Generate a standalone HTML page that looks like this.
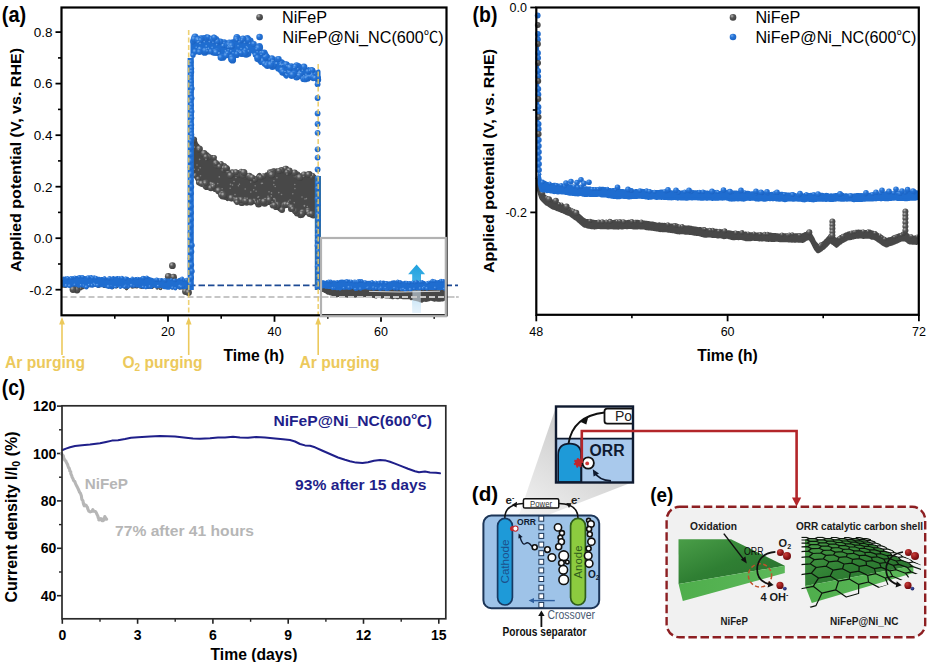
<!DOCTYPE html>
<html lang="en"><head><meta charset="utf-8"><title>NiFeP stability figure</title>
<style>html,body{margin:0;padding:0;background:#fff}body{width:928px;height:662px;overflow:hidden}svg{display:block;font-family:'Liberation Sans', sans-serif}</style></head><body>
<svg width="928" height="662" viewBox="0 0 928 662">
<defs>
<radialGradient id="gB" cx="0.35" cy="0.3" r="0.75"><stop offset="0" stop-color="#6ea9ee"/><stop offset="0.4" stop-color="#2573d6"/><stop offset="1" stop-color="#1a62c2"/></radialGradient>
<radialGradient id="gG" cx="0.35" cy="0.3" r="0.75"><stop offset="0" stop-color="#b5b5b5"/><stop offset="0.4" stop-color="#565656"/><stop offset="1" stop-color="#3e3e3e"/></radialGradient>
<radialGradient id="gR" cx="0.35" cy="0.3" r="0.8"><stop offset="0" stop-color="#c9403a"/><stop offset="0.6" stop-color="#8e1518"/><stop offset="1" stop-color="#5e0a0c"/></radialGradient>
<radialGradient id="gN" cx="0.35" cy="0.3" r="0.8"><stop offset="0" stop-color="#4a5ab0"/><stop offset="1" stop-color="#141a55"/></radialGradient>
<linearGradient id="gArrow" x1="0" y1="0" x2="0" y2="1"><stop offset="0" stop-color="#1fa0de"/><stop offset="0.35" stop-color="#3fb2e6"/><stop offset="0.7" stop-color="#a8d8f2" stop-opacity="0.85"/><stop offset="1" stop-color="#eaf5fc" stop-opacity="0.6"/></linearGradient>
<linearGradient id="gCone" x1="0.15" y1="1" x2="0.75" y2="0.1"><stop offset="0" stop-color="#f4f4f4"/><stop offset="1" stop-color="#c4c4c4"/></linearGradient>
<linearGradient id="gTop" x1="0" y1="0" x2="1" y2="1"><stop offset="0" stop-color="#4a9e48"/><stop offset="0.5" stop-color="#2f7f33"/><stop offset="1" stop-color="#2a6f2e"/></linearGradient>
<linearGradient id="gFront" x1="0" y1="0" x2="1" y2="0"><stop offset="0" stop-color="#4fae4c"/><stop offset="1" stop-color="#5cb85a"/></linearGradient>
</defs>
<rect width="928" height="662" fill="#fff"/>
<g id="panel-a">
<text x="1.8" y="21.8" font-size="22" font-weight="bold" fill="#000" text-anchor="start" textLength="24.4" lengthAdjust="spacingAndGlyphs">(a)</text>
<text x="0" y="0" font-size="15.5" font-weight="bold" fill="#000" text-anchor="middle" textLength="224" lengthAdjust="spacingAndGlyphs" transform="translate(21 160) rotate(-90)">Applied potential (V, vs. RHE)</text>
<line x1="55.5" y1="32.1" x2="61.5" y2="32.1" stroke="#000" stroke-width="1.8"/>
<text x="52.5" y="36.9" font-size="13.5" font-weight="normal" fill="#000" text-anchor="end">0.8</text>
<line x1="55.5" y1="83.6" x2="61.5" y2="83.6" stroke="#000" stroke-width="1.8"/>
<text x="52.5" y="88.4" font-size="13.5" font-weight="normal" fill="#000" text-anchor="end">0.6</text>
<line x1="55.5" y1="135.2" x2="61.5" y2="135.2" stroke="#000" stroke-width="1.8"/>
<text x="52.5" y="140" font-size="13.5" font-weight="normal" fill="#000" text-anchor="end">0.4</text>
<line x1="55.5" y1="186.7" x2="61.5" y2="186.7" stroke="#000" stroke-width="1.8"/>
<text x="52.5" y="191.5" font-size="13.5" font-weight="normal" fill="#000" text-anchor="end">0.2</text>
<line x1="55.5" y1="238.2" x2="61.5" y2="238.2" stroke="#000" stroke-width="1.8"/>
<text x="52.5" y="243" font-size="13.5" font-weight="normal" fill="#000" text-anchor="end">0.0</text>
<line x1="55.5" y1="289.7" x2="61.5" y2="289.7" stroke="#000" stroke-width="1.8"/>
<text x="52.5" y="294.5" font-size="13.5" font-weight="normal" fill="#000" text-anchor="end">-0.2</text>
<line x1="58" y1="57.9" x2="61.5" y2="57.9" stroke="#000" stroke-width="1.6"/>
<line x1="58" y1="109.4" x2="61.5" y2="109.4" stroke="#000" stroke-width="1.6"/>
<line x1="58" y1="160.9" x2="61.5" y2="160.9" stroke="#000" stroke-width="1.6"/>
<line x1="58" y1="212.4" x2="61.5" y2="212.4" stroke="#000" stroke-width="1.6"/>
<line x1="58" y1="264" x2="61.5" y2="264" stroke="#000" stroke-width="1.6"/>
<line x1="168" y1="315.3" x2="168" y2="321.8" stroke="#000" stroke-width="1.8"/>
<text x="168" y="336.2" font-size="12.5" font-weight="normal" fill="#000" text-anchor="middle">20</text>
<line x1="274.5" y1="315.3" x2="274.5" y2="321.8" stroke="#000" stroke-width="1.8"/>
<text x="274.5" y="336.2" font-size="12.5" font-weight="normal" fill="#000" text-anchor="middle">40</text>
<line x1="381" y1="315.3" x2="381" y2="321.8" stroke="#000" stroke-width="1.8"/>
<text x="381" y="336.2" font-size="12.5" font-weight="normal" fill="#000" text-anchor="middle">60</text>
<line x1="114.8" y1="315.3" x2="114.8" y2="318.8" stroke="#000" stroke-width="1.6"/>
<line x1="221.2" y1="315.3" x2="221.2" y2="318.8" stroke="#000" stroke-width="1.6"/>
<line x1="327.8" y1="315.3" x2="327.8" y2="318.8" stroke="#000" stroke-width="1.6"/>
<line x1="434.2" y1="315.3" x2="434.2" y2="318.8" stroke="#000" stroke-width="1.6"/>
<text x="253.8" y="361.3" font-size="15.7" font-weight="bold" fill="#000" text-anchor="middle">Time (h)</text>
</g>
<g id="panel-b">
<text x="472.6" y="21.8" font-size="22" font-weight="bold" fill="#000" text-anchor="start" textLength="24.8" lengthAdjust="spacingAndGlyphs">(b)</text>
<text x="0" y="0" font-size="15.5" font-weight="bold" fill="#000" text-anchor="middle" textLength="224" lengthAdjust="spacingAndGlyphs" transform="translate(494.3 161) rotate(-90)">Applied potential (V, vs. RHE)</text>
<line x1="530.3" y1="7.5" x2="536.3" y2="7.5" stroke="#000" stroke-width="1.8"/>
<text x="527" y="12.1" font-size="12.5" font-weight="normal" fill="#000" text-anchor="end">0.0</text>
<line x1="530.3" y1="212.4" x2="536.3" y2="212.4" stroke="#000" stroke-width="1.8"/>
<text x="527" y="217" font-size="12.5" font-weight="normal" fill="#000" text-anchor="end">-0.2</text>
<line x1="532.8" y1="110" x2="536.3" y2="110" stroke="#000" stroke-width="1.6"/>
<line x1="536.3" y1="314.8" x2="536.3" y2="321.3" stroke="#000" stroke-width="1.8"/>
<text x="536.3" y="336.2" font-size="12.5" font-weight="normal" fill="#000" text-anchor="middle">48</text>
<line x1="727.6" y1="314.8" x2="727.6" y2="321.3" stroke="#000" stroke-width="1.8"/>
<text x="727.6" y="336.2" font-size="12.5" font-weight="normal" fill="#000" text-anchor="middle">60</text>
<line x1="918.9" y1="314.8" x2="918.9" y2="321.3" stroke="#000" stroke-width="1.8"/>
<text x="918.9" y="336.2" font-size="12.5" font-weight="normal" fill="#000" text-anchor="middle">72</text>
<line x1="631.9" y1="314.8" x2="631.9" y2="318.3" stroke="#000" stroke-width="1.6"/>
<line x1="823.2" y1="314.8" x2="823.2" y2="318.3" stroke="#000" stroke-width="1.6"/>
<text x="727.5" y="361.3" font-size="15.7" font-weight="bold" fill="#000" text-anchor="middle">Time (h)</text>
</g>
<g id="panel-c">
<text x="1.8" y="394.6" font-size="22" font-weight="bold" fill="#000" text-anchor="start" textLength="23.4" lengthAdjust="spacingAndGlyphs">(c)</text>
<text x="0" y="0" font-size="16" font-weight="bold" fill="#000" text-anchor="middle" textLength="171" lengthAdjust="spacingAndGlyphs" transform="translate(16.6 517) rotate(-90)">Current density I/I<tspan font-size="10.5" dy="3">0</tspan><tspan dy="-3"> (%)</tspan></text>
<line x1="57" y1="406.1" x2="62" y2="406.1" stroke="#222" stroke-width="1.6"/>
<text x="56.4" y="411.2" font-size="14" font-weight="bold" fill="#000" text-anchor="end">120</text>
<line x1="57" y1="453.5" x2="62" y2="453.5" stroke="#222" stroke-width="1.6"/>
<text x="56.4" y="458.6" font-size="14" font-weight="bold" fill="#000" text-anchor="end">100</text>
<line x1="57" y1="500.9" x2="62" y2="500.9" stroke="#222" stroke-width="1.6"/>
<text x="56.4" y="506" font-size="14" font-weight="bold" fill="#000" text-anchor="end">80</text>
<line x1="57" y1="548.3" x2="62" y2="548.3" stroke="#222" stroke-width="1.6"/>
<text x="56.4" y="553.4" font-size="14" font-weight="bold" fill="#000" text-anchor="end">60</text>
<line x1="57" y1="595.7" x2="62" y2="595.7" stroke="#222" stroke-width="1.6"/>
<text x="56.4" y="600.8" font-size="14" font-weight="bold" fill="#000" text-anchor="end">40</text>
<line x1="59" y1="429.8" x2="62" y2="429.8" stroke="#222" stroke-width="1.4"/>
<line x1="59" y1="477.2" x2="62" y2="477.2" stroke="#222" stroke-width="1.4"/>
<line x1="59" y1="524.6" x2="62" y2="524.6" stroke="#222" stroke-width="1.4"/>
<line x1="59" y1="572" x2="62" y2="572" stroke="#222" stroke-width="1.4"/>
<line x1="62.3" y1="618.8" x2="62.3" y2="623.8" stroke="#222" stroke-width="1.6"/>
<text x="62.3" y="639.8" font-size="14" font-weight="bold" fill="#000" text-anchor="middle">0</text>
<line x1="137.6" y1="618.8" x2="137.6" y2="623.8" stroke="#222" stroke-width="1.6"/>
<text x="137.6" y="639.8" font-size="14" font-weight="bold" fill="#000" text-anchor="middle">3</text>
<line x1="212.9" y1="618.8" x2="212.9" y2="623.8" stroke="#222" stroke-width="1.6"/>
<text x="212.9" y="639.8" font-size="14" font-weight="bold" fill="#000" text-anchor="middle">6</text>
<line x1="288.2" y1="618.8" x2="288.2" y2="623.8" stroke="#222" stroke-width="1.6"/>
<text x="288.2" y="639.8" font-size="14" font-weight="bold" fill="#000" text-anchor="middle">9</text>
<line x1="363.5" y1="618.8" x2="363.5" y2="623.8" stroke="#222" stroke-width="1.6"/>
<text x="363.5" y="639.8" font-size="14" font-weight="bold" fill="#000" text-anchor="middle">12</text>
<line x1="438.8" y1="618.8" x2="438.8" y2="623.8" stroke="#222" stroke-width="1.6"/>
<text x="438.8" y="639.8" font-size="14" font-weight="bold" fill="#000" text-anchor="middle">15</text>
<line x1="100" y1="618.8" x2="100" y2="621.8" stroke="#222" stroke-width="1.4"/>
<line x1="175.2" y1="618.8" x2="175.2" y2="621.8" stroke="#222" stroke-width="1.4"/>
<line x1="250.6" y1="618.8" x2="250.6" y2="621.8" stroke="#222" stroke-width="1.4"/>
<line x1="325.9" y1="618.8" x2="325.9" y2="621.8" stroke="#222" stroke-width="1.4"/>
<line x1="401.2" y1="618.8" x2="401.2" y2="621.8" stroke="#222" stroke-width="1.4"/>
<text x="254" y="660" font-size="15.7" font-weight="bold" fill="#000" text-anchor="middle">Time (days)</text>
</g>
<g id="series-a">
<line x1="61.5" y1="297" x2="458.5" y2="297" stroke="#b4b4b4" stroke-width="1.6" stroke-dasharray="6 3"/>
<line x1="189" y1="285.3" x2="458" y2="285.3" stroke="#1d4a94" stroke-width="1.7" stroke-dasharray="6.5 3"/>
<path d="M63 280.8 64 280.3 65 280.8 66 280.2 67 280.5 68 280.5 69 279.9 70 280.3 71 279.8 72 280 73 279.6 74 279.4 75 279.8 76 280.7 77 280.3 78 280.1 79 280.6 80 281.6 81 281.7 82 281.5 83 282.3 84 281.3 85 282 86 281.5 87 280.9 88 280.5 89 280.4 90 281.2 91 280.8 92 281.2 93 281.5 94 281.3 95 281.5 96 280.8 97 280.3 98 280.2 99 280.9 100 281 101 280.9 102 281.2 103 281.3 104 281.1 105 281.8 106 282.1 107 281.7 108 281.8 109 281.9 110 282.5 111 282.8 112 282.2 113 283 114 282.1 115 281.9 116 282.4 117 281.7 118 281.8 119 281.1 120 281.6 121 282.2 122 282.3 123 282.9 124 282.4 125 282.7 126 282.7 127 282.7 128 282.5 129 283 130 283.6 131 283.2 132 283.3 133 282.3 134 282.6 135 282.8 136 283.5 137 283.8 138 283.1 139 282.7 140 282.9 141 282 142 282 143 281.6 144 281.2 145 280.8 146 281.6 147 281.2 148 281.1 149 281.3 150 282.3 151 281.6 152 281.8 153 282.1 154 282.9 155 283.4 156 283.8 157 283.1 158 282.9 159 282.6 160 283.3 161 283.9 162 283 163 282.4 164 282.1 165 281.8 166 282 167 282.4 168 282.1 169 281.5 170 281.7 171 281.8 172 282.2 173 283.1 174 283.4 175 283.3 176 283.4 177 283.6 178 282.7 179 283.5 180 283.8 181 284.3 182 284.5 183 284 184 283.6 185 282.8 186 283.1 187 282.4 L187 290.3 186 289.5 185 289.7 184 288.8 183 288.5 182 288.3 181 288.4 180 287.2 179 287.5 178 287.4 177 287.5 176 287.1 175 287.2 174 287.4 173 287.8 172 288.5 171 288.1 170 287.5 169 287.8 168 287.1 167 287.1 166 286.9 165 285.8 164 286.6 163 287.3 162 287.3 161 287.9 160 287.9 159 287.1 158 286.5 157 287.2 156 286.7 155 285.8 154 286.3 153 287 152 287.8 151 287.7 150 287 149 287.4 148 287.9 147 287.2 146 286.7 145 287.2 144 286.7 143 287.5 142 287.8 141 287.7 140 287.4 139 286.8 138 286.5 137 287.4 136 287.1 135 287 134 287.2 133 286.7 132 285.9 131 285.4 130 285.7 129 286.2 128 286.7 127 287.4 126 288.1 125 287.7 124 287.1 123 286.3 122 286.5 121 285.5 120 284.8 119 284.9 118 284.9 117 285.5 116 286.4 115 286.8 114 286.9 113 287.8 112 287.8 111 287.6 110 287.4 109 287.1 108 286.3 107 285.7 106 286.1 105 286.5 104 286.1 103 286 102 285.4 101 285.9 100 286.2 99 286.8 98 286.7 97 286.1 96 285.1 95 284.7 94 285.6 93 285.5 92 286.2 91 286.2 90 285.3 89 286 88 286.7 87 286 86 286.3 85 286.5 84 287.2 83 288.1 82 288.3 81 288.7 80 287.9 79 286.9 78 287.2 77 287.1 76 287 75 287.1 74 287.4 73 286.9 72 285.7 71 285.9 70 285.5 69 285.6 68 285.6 67 285.9 66 286.3 65 286.2 64 286.5 63 286.7Z" fill="#484848" stroke="#484848" stroke-width="2.2" stroke-linejoin="round"/>
<circle cx="125.2" cy="282.6" r="1.7" fill="url(#gG)"/>
<circle cx="65.3" cy="286.2" r="1.7" fill="url(#gG)"/>
<circle cx="85.7" cy="282.5" r="1.4" fill="url(#gG)"/>
<circle cx="84.4" cy="287.2" r="1.4" fill="url(#gG)"/>
<circle cx="152.9" cy="281.4" r="1.7" fill="url(#gG)"/>
<circle cx="127.3" cy="287.6" r="1.7" fill="url(#gG)"/>
<circle cx="160.2" cy="283.3" r="1.4" fill="url(#gG)"/>
<circle cx="93.8" cy="285.1" r="1.4" fill="url(#gG)"/>
<circle cx="158.8" cy="282.9" r="1.7" fill="url(#gG)"/>
<circle cx="157.2" cy="288.1" r="1.7" fill="url(#gG)"/>
<circle cx="118" cy="281.6" r="1.8" fill="url(#gG)"/>
<circle cx="126.5" cy="288.6" r="1.8" fill="url(#gG)"/>
<circle cx="119.1" cy="281" r="1.7" fill="url(#gG)"/>
<circle cx="179.7" cy="288" r="1.7" fill="url(#gG)"/>
<circle cx="171.7" cy="281.2" r="2" fill="url(#gG)"/>
<circle cx="132.4" cy="286.8" r="2" fill="url(#gG)"/>
<circle cx="167.2" cy="281.6" r="1.4" fill="url(#gG)"/>
<circle cx="117.8" cy="284.8" r="1.4" fill="url(#gG)"/>
<circle cx="92.8" cy="281.4" r="1.4" fill="url(#gG)"/>
<circle cx="160.2" cy="288.7" r="1.4" fill="url(#gG)"/>
<circle cx="82.2" cy="281.7" r="1.8" fill="url(#gG)"/>
<circle cx="80.7" cy="288.7" r="1.8" fill="url(#gG)"/>
<circle cx="183" cy="285.3" r="1.5" fill="url(#gG)"/>
<circle cx="112.4" cy="287.8" r="1.5" fill="url(#gG)"/>
<circle cx="185.7" cy="282.1" r="1.9" fill="url(#gG)"/>
<circle cx="116.5" cy="286.5" r="1.9" fill="url(#gG)"/>
<circle cx="105.1" cy="281.4" r="1.5" fill="url(#gG)"/>
<circle cx="152.5" cy="287" r="1.5" fill="url(#gG)"/>
<circle cx="131.7" cy="282.2" r="1.6" fill="url(#gG)"/>
<circle cx="104.1" cy="286.4" r="1.6" fill="url(#gG)"/>
<circle cx="126.5" cy="283.6" r="1.4" fill="url(#gG)"/>
<circle cx="160.8" cy="288.8" r="1.4" fill="url(#gG)"/>
<circle cx="76" cy="278.8" r="1.5" fill="url(#gG)"/>
<circle cx="159.6" cy="286.8" r="1.5" fill="url(#gG)"/>
<circle cx="79.1" cy="281.3" r="1.6" fill="url(#gG)"/>
<circle cx="164.6" cy="286.2" r="1.6" fill="url(#gG)"/>
<circle cx="81.5" cy="281.7" r="1.9" fill="url(#gG)"/>
<circle cx="149.9" cy="286.7" r="1.9" fill="url(#gG)"/>
<circle cx="70.1" cy="280.1" r="1.8" fill="url(#gG)"/>
<circle cx="72" cy="286.8" r="1.8" fill="url(#gG)"/>
<circle cx="172.4" cy="265.7" r="3.4" fill="url(#gG)"/>
<circle cx="168.3" cy="276.5" r="3.4" fill="url(#gG)"/>
<circle cx="173.5" cy="277.2" r="3.4" fill="url(#gG)"/>
<circle cx="185.5" cy="291.5" r="3.4" fill="url(#gG)"/>
<circle cx="188.5" cy="292.5" r="3.4" fill="url(#gG)"/>
<circle cx="77" cy="290" r="3.4" fill="url(#gG)"/>
<circle cx="73" cy="289.5" r="3.4" fill="url(#gG)"/>
<path d="M63.5 277.8 64.5 278.2 65.5 277.6 66.5 278 67.5 277.4 68.5 278 69.5 277.9 70.5 277.6 71.5 277.7 72.5 278.3 73.5 277.9 74.5 277.4 75.5 277.5 76.5 277.3 77.5 276.9 78.5 276.7 79.5 276.5 80.5 276.4 81.5 276.6 82.5 276.7 83.5 277.3 84.5 277.2 85.5 277.4 86.5 277.1 87.5 277.1 88.5 276.7 89.5 276.7 90.5 276.4 91.5 277.1 92.5 277.4 93.5 277.2 94.5 277.4 95.5 278.1 96.5 277.6 97.5 278.1 98.5 278 99.5 278 100.5 278.5 101.5 278.3 102.5 278.3 103.5 278.5 104.5 279 105.5 278.6 106.5 279 107.5 279.1 108.5 279.1 109.5 278.8 110.5 278.5 111.5 277.9 112.5 277.6 113.5 277.2 114.5 277.9 115.5 277.7 116.5 277.5 117.5 277.2 118.5 278 119.5 278.6 120.5 278.8 121.5 278.5 122.5 278.2 123.5 278.1 124.5 278.2 125.5 277.9 126.5 278 127.5 277.9 128.5 278.7 129.5 279.4 130.5 279.3 131.5 278.9 132.5 279.5 133.5 279.1 134.5 278.9 135.5 278.3 136.5 278.3 137.5 278.5 138.5 278.6 139.5 278.4 140.5 278.5 141.5 278.1 142.5 278 143.5 277.8 144.5 278 145.5 277.8 146.5 277.5 147.5 277.7 148.5 277.8 149.5 278.3 150.5 278.6 151.5 279.1 152.5 279.3 153.5 279.6 154.5 280 155.5 279.7 156.5 279.4 157.5 280 158.5 279.5 159.5 279.7 160.5 279.9 161.5 279.2 162.5 279.7 163.5 280.1 164.5 280.2 165.5 280.3 166.5 280.5 167.5 279.8 168.5 279.8 169.5 279.8 170.5 280.2 171.5 280.4 172.5 280.6 173.5 280.5 174.5 280.8 175.5 280.8 176.5 280.8 177.5 280.2 178.5 279.5 179.5 279.1 180.5 279.1 181.5 278.8 182.5 279.5 183.5 279.6 184.5 279.9 185.5 280 186.5 280.2 L186.5 287.5 185.5 287.8 184.5 287.6 183.5 288 182.5 287.4 181.5 286.9 180.5 287 179.5 287.1 178.5 287.1 177.5 287.6 176.5 286.9 175.5 287.5 174.5 287.9 173.5 287.9 172.5 287.6 171.5 287.8 170.5 287.5 169.5 288.4 168.5 288.3 167.5 288.6 166.5 288.3 165.5 288 164.5 288 163.5 287.7 162.5 287.2 161.5 286.5 160.5 286.5 159.5 286.8 158.5 286.6 157.5 286.9 156.5 287.2 155.5 286.5 154.5 286.6 153.5 285.9 152.5 286.3 151.5 286.8 150.5 287 149.5 287.2 148.5 287.5 147.5 287.5 146.5 286.8 145.5 287 144.5 287.2 143.5 287.7 142.5 287.3 141.5 287.1 140.5 286.5 139.5 287 138.5 286.5 137.5 285.9 136.5 286.5 135.5 285.8 134.5 285.8 133.5 285.7 132.5 286 131.5 286.1 130.5 286 129.5 285.8 128.5 286.4 127.5 287.1 126.5 287.2 125.5 286.8 124.5 287.3 123.5 287.2 122.5 286.7 121.5 286.7 120.5 286.3 119.5 286.8 118.5 286.1 117.5 286 116.5 286.4 115.5 286.3 114.5 286.7 113.5 286.1 112.5 286.5 111.5 286.9 110.5 287.2 109.5 286.7 108.5 286.2 107.5 286.3 106.5 287.1 105.5 286.6 104.5 285.9 103.5 286.2 102.5 285.6 101.5 286 100.5 286 99.5 286 98.5 285.9 97.5 286.2 96.5 285.9 95.5 285.5 94.5 284.9 93.5 284.9 92.5 285.3 91.5 285.8 90.5 285.6 89.5 285.8 88.5 285.3 87.5 285.5 86.5 285.9 85.5 286.6 84.5 286.5 83.5 286.5 82.5 286.2 81.5 286 80.5 286 79.5 286.3 78.5 286.4 77.5 285.7 76.5 285.3 75.5 285.5 74.5 285 73.5 285.1 72.5 285.6 71.5 285.9 70.5 285.5 69.5 286.2 68.5 286 67.5 286 66.5 286 65.5 285.7 64.5 285.1 63.5 285.7Z" fill="#1f6dd0" stroke="#1f6dd0" stroke-width="2.5" stroke-linejoin="round"/>
<circle cx="132.3" cy="278.4" r="1.8" fill="url(#gB)"/>
<circle cx="83.5" cy="285.8" r="1.8" fill="url(#gB)"/>
<circle cx="175.4" cy="280.4" r="1.9" fill="url(#gB)"/>
<circle cx="175.4" cy="288.6" r="1.9" fill="url(#gB)"/>
<circle cx="119.1" cy="277.6" r="1.6" fill="url(#gB)"/>
<circle cx="74.7" cy="284.8" r="1.6" fill="url(#gB)"/>
<circle cx="74.8" cy="277.1" r="1.7" fill="url(#gB)"/>
<circle cx="133.8" cy="286.3" r="1.7" fill="url(#gB)"/>
<circle cx="156.1" cy="279.6" r="1.8" fill="url(#gB)"/>
<circle cx="128.2" cy="286.9" r="1.8" fill="url(#gB)"/>
<circle cx="105.3" cy="278.7" r="1.6" fill="url(#gB)"/>
<circle cx="183" cy="286.8" r="1.6" fill="url(#gB)"/>
<circle cx="125.7" cy="278.4" r="2" fill="url(#gB)"/>
<circle cx="90.2" cy="285.5" r="2" fill="url(#gB)"/>
<circle cx="94.2" cy="277.1" r="1.8" fill="url(#gB)"/>
<circle cx="181.3" cy="287.5" r="1.8" fill="url(#gB)"/>
<circle cx="171.3" cy="279.5" r="1.5" fill="url(#gB)"/>
<circle cx="151.1" cy="287.6" r="1.5" fill="url(#gB)"/>
<circle cx="121.9" cy="277.8" r="2" fill="url(#gB)"/>
<circle cx="111.9" cy="287.5" r="2" fill="url(#gB)"/>
<circle cx="165.5" cy="280.8" r="2.1" fill="url(#gB)"/>
<circle cx="94.2" cy="284.4" r="2.1" fill="url(#gB)"/>
<circle cx="82.6" cy="276.9" r="1.9" fill="url(#gB)"/>
<circle cx="179.8" cy="287.5" r="1.9" fill="url(#gB)"/>
<circle cx="143.4" cy="278" r="2.1" fill="url(#gB)"/>
<circle cx="131.6" cy="285.5" r="2.1" fill="url(#gB)"/>
<circle cx="160.1" cy="280.3" r="1.7" fill="url(#gB)"/>
<circle cx="143.2" cy="287" r="1.7" fill="url(#gB)"/>
<circle cx="79.3" cy="276.9" r="1.7" fill="url(#gB)"/>
<circle cx="149.8" cy="286.6" r="1.7" fill="url(#gB)"/>
<circle cx="72.2" cy="277.9" r="1.9" fill="url(#gB)"/>
<circle cx="111.4" cy="286.8" r="1.9" fill="url(#gB)"/>
<circle cx="137.7" cy="278.2" r="1.5" fill="url(#gB)"/>
<circle cx="120.4" cy="287.5" r="1.5" fill="url(#gB)"/>
<circle cx="143.1" cy="278" r="2.2" fill="url(#gB)"/>
<circle cx="92.5" cy="285.5" r="2.2" fill="url(#gB)"/>
<circle cx="182.1" cy="278.5" r="2" fill="url(#gB)"/>
<circle cx="66.2" cy="285.7" r="2" fill="url(#gB)"/>
<circle cx="146.8" cy="277.2" r="1.8" fill="url(#gB)"/>
<circle cx="145.9" cy="287.6" r="1.8" fill="url(#gB)"/>
<circle cx="91.5" cy="276.9" r="1.6" fill="url(#gB)"/>
<circle cx="115.4" cy="287" r="1.6" fill="url(#gB)"/>
<circle cx="88" cy="277.5" r="2.1" fill="url(#gB)"/>
<circle cx="125.9" cy="286.3" r="2.1" fill="url(#gB)"/>
<circle cx="183.3" cy="279.9" r="1.8" fill="url(#gB)"/>
<circle cx="92" cy="285.4" r="1.8" fill="url(#gB)"/>
<circle cx="157.4" cy="280.1" r="1.7" fill="url(#gB)"/>
<circle cx="124.7" cy="286.8" r="1.7" fill="url(#gB)"/>
<circle cx="91.1" cy="276.7" r="1.8" fill="url(#gB)"/>
<circle cx="180.7" cy="286.5" r="1.8" fill="url(#gB)"/>
<circle cx="112.1" cy="278.6" r="1.7" fill="url(#gB)"/>
<circle cx="81" cy="285.4" r="1.7" fill="url(#gB)"/>
<circle cx="70.9" cy="278.2" r="1.8" fill="url(#gB)"/>
<circle cx="172.6" cy="287.9" r="1.8" fill="url(#gB)"/>
<circle cx="186.7" cy="280" r="2.2" fill="url(#gB)"/>
<circle cx="86.4" cy="287.2" r="2.2" fill="url(#gB)"/>
<circle cx="155.7" cy="280" r="1.6" fill="url(#gB)"/>
<circle cx="110.3" cy="286.5" r="1.6" fill="url(#gB)"/>
<circle cx="104.5" cy="277.8" r="1.7" fill="url(#gB)"/>
<circle cx="98.1" cy="285.9" r="1.7" fill="url(#gB)"/>
<circle cx="181.5" cy="279.4" r="1.6" fill="url(#gB)"/>
<circle cx="89.1" cy="285.1" r="1.6" fill="url(#gB)"/>
<circle cx="165" cy="280.1" r="2.1" fill="url(#gB)"/>
<circle cx="69.6" cy="286.1" r="2.1" fill="url(#gB)"/>
<circle cx="109.5" cy="278.3" r="2.2" fill="url(#gB)"/>
<circle cx="108.5" cy="286.8" r="2.2" fill="url(#gB)"/>
<circle cx="67.2" cy="278.5" r="1.8" fill="url(#gB)"/>
<circle cx="158.2" cy="286.2" r="1.8" fill="url(#gB)"/>
<circle cx="67.8" cy="278" r="1.6" fill="url(#gB)"/>
<circle cx="95.2" cy="285.3" r="1.6" fill="url(#gB)"/>
<circle cx="174.5" cy="280.2" r="1.8" fill="url(#gB)"/>
<circle cx="181.8" cy="287.1" r="1.8" fill="url(#gB)"/>
<circle cx="95.9" cy="277.8" r="2" fill="url(#gB)"/>
<circle cx="97.5" cy="285.4" r="2" fill="url(#gB)"/>
<circle cx="156.8" cy="279.6" r="2.2" fill="url(#gB)"/>
<circle cx="180" cy="286.5" r="2.2" fill="url(#gB)"/>
<circle cx="92.4" cy="277.8" r="1.9" fill="url(#gB)"/>
<circle cx="181.3" cy="286.9" r="1.9" fill="url(#gB)"/>
<path d="M193.5 140.6 194.5 141.4 195.5 142.3 196.5 145.2 197.5 145.5 198.5 148 199.5 150.1 200.5 152.2 201.5 154.1 202.5 155.3 203.5 155.3 204.5 155.2 205.5 155.3 206.5 156.9 207.5 156 208.5 155.9 209.5 157.7 210.5 157.6 211.5 157.2 212.5 157 213.5 158.7 214.5 159.5 215.5 162.3 216.5 164.3 217.5 166.3 218.5 165.8 219.5 165.1 220.5 164.8 221.5 165.9 222.5 167.6 223.5 168.2 224.5 168.1 225.5 168.8 226.5 170.2 227.5 171.5 228.5 172.9 229.5 174.4 230.5 175.2 231.5 173.6 232.5 174.7 233.5 173.8 234.5 174 235.5 173.6 236.5 174.4 237.5 173.4 238.5 172.8 239.5 172.4 240.5 171.8 241.5 173.6 242.5 174 243.5 173.6 244.5 173.8 245.5 175.8 246.5 175.9 247.5 175.2 248.5 176.5 249.5 177.1 250.5 178.7 251.5 177.2 252.5 177.3 253.5 178.5 254.5 179.5 255.5 180.6 256.5 178.5 257.5 177.3 258.5 175.8 259.5 174.8 260.5 176.4 261.5 176.3 262.5 177.2 263.5 176.1 264.5 176.6 265.5 175.7 266.5 174.3 267.5 174.8 268.5 175.6 269.5 173.6 270.5 173.8 271.5 173.9 272.5 172.8 273.5 172.3 274.5 171.3 275.5 170.7 276.5 170.4 277.5 171.2 278.5 171.9 279.5 171.1 280.5 169.8 281.5 169.8 282.5 170.8 283.5 170.1 284.5 169.8 285.5 169.3 286.5 170.7 287.5 171.2 288.5 170.6 289.5 170.4 290.5 171.3 291.5 172.6 292.5 174 293.5 173.6 294.5 173.6 295.5 174.8 296.5 174.9 297.5 174.5 298.5 174.3 299.5 176.1 300.5 175.5 301.5 175.7 302.5 175.2 303.5 175 304.5 176.1 305.5 177.4 306.5 176.4 307.5 175.1 308.5 175.7 309.5 174.7 310.5 173.5 311.5 175.5 312.5 175.6 313.5 177 314.5 176.8 315.5 178.2 L315.5 215 314.5 214.4 313.5 214 312.5 215.2 311.5 214.1 310.5 215.3 309.5 213.9 308.5 213.1 307.5 211.2 306.5 211.7 305.5 212.2 304.5 213.5 303.5 214 302.5 213.9 301.5 214.7 300.5 216 299.5 214.4 298.5 213.6 297.5 214.3 296.5 212.6 295.5 212.9 294.5 210.8 293.5 210.6 292.5 208.4 291.5 207.5 290.5 208.1 289.5 205.7 288.5 203.7 287.5 204.1 286.5 203.7 285.5 203.8 284.5 205.4 283.5 205.2 282.5 207.8 281.5 208.4 280.5 209.2 279.5 208.2 278.5 206.5 277.5 207.5 276.5 205.4 275.5 205.2 274.5 204.5 273.5 205.6 272.5 205.2 271.5 203.7 270.5 202 269.5 202.6 268.5 201.3 267.5 202.2 266.5 201.6 265.5 201 264.5 201.7 263.5 201.3 262.5 201.9 261.5 202.9 260.5 202.8 259.5 203.8 258.5 204.1 257.5 203.1 256.5 201.9 255.5 202.4 254.5 202.1 253.5 201.2 252.5 202.5 251.5 202.5 250.5 202.6 249.5 201.8 248.5 201.9 247.5 201.3 246.5 201.3 245.5 201.8 244.5 201.3 243.5 200.8 242.5 200.1 241.5 201.2 240.5 199.7 239.5 201.1 238.5 200 237.5 199.5 236.5 200.9 235.5 199.3 234.5 198 233.5 198.2 232.5 199 231.5 199.1 230.5 198.7 229.5 198.1 228.5 198.4 227.5 199.1 226.5 197.6 225.5 195.7 224.5 195.4 223.5 195.8 222.5 194.4 221.5 195.3 220.5 193.9 219.5 193.2 218.5 191.3 217.5 191.2 216.5 189.1 215.5 190.1 214.5 189.9 213.5 187.8 212.5 185.5 211.5 186.3 210.5 187.5 209.5 186.1 208.5 184.9 207.5 184.6 206.5 185.8 205.5 184 204.5 183.4 203.5 183.6 202.5 184.1 201.5 183.1 200.5 182.6 199.5 181.1 198.5 181.7 197.5 179.4 196.5 177.7 195.5 176 194.5 175.4 193.5 174.7Z" fill="#484848" stroke="#484848" stroke-width="4.1" stroke-linejoin="round"/>
<circle cx="237.6" cy="173.4" r="3.5" fill="url(#gG)"/>
<circle cx="264.6" cy="203.2" r="3.5" fill="url(#gG)"/>
<circle cx="206.3" cy="155.6" r="3.6" fill="url(#gG)"/>
<circle cx="241.8" cy="202.4" r="3.6" fill="url(#gG)"/>
<circle cx="225.9" cy="169" r="3.6" fill="url(#gG)"/>
<circle cx="237.6" cy="200.6" r="3.6" fill="url(#gG)"/>
<circle cx="247.7" cy="175.9" r="2.7" fill="url(#gG)"/>
<circle cx="199.4" cy="183" r="2.7" fill="url(#gG)"/>
<circle cx="224.6" cy="169.7" r="3.2" fill="url(#gG)"/>
<circle cx="265.3" cy="202.4" r="3.2" fill="url(#gG)"/>
<circle cx="231.8" cy="171.8" r="2.5" fill="url(#gG)"/>
<circle cx="211.8" cy="186.8" r="2.5" fill="url(#gG)"/>
<circle cx="246.4" cy="177" r="3.1" fill="url(#gG)"/>
<circle cx="209.7" cy="185.3" r="3.1" fill="url(#gG)"/>
<circle cx="273.5" cy="170.4" r="2.5" fill="url(#gG)"/>
<circle cx="237" cy="199.7" r="2.5" fill="url(#gG)"/>
<circle cx="237.3" cy="174.6" r="2.7" fill="url(#gG)"/>
<circle cx="265.7" cy="200.1" r="2.7" fill="url(#gG)"/>
<circle cx="269.9" cy="172.2" r="3" fill="url(#gG)"/>
<circle cx="308.2" cy="210.4" r="3" fill="url(#gG)"/>
<circle cx="211.8" cy="157.5" r="2.6" fill="url(#gG)"/>
<circle cx="300.2" cy="215.5" r="2.6" fill="url(#gG)"/>
<circle cx="242.7" cy="172.2" r="2.8" fill="url(#gG)"/>
<circle cx="272.5" cy="205.6" r="2.8" fill="url(#gG)"/>
<circle cx="236.4" cy="173.2" r="3.2" fill="url(#gG)"/>
<circle cx="308.3" cy="212.1" r="3.2" fill="url(#gG)"/>
<circle cx="223.9" cy="166.4" r="3.5" fill="url(#gG)"/>
<circle cx="258.6" cy="203.9" r="3.5" fill="url(#gG)"/>
<circle cx="222.6" cy="168.4" r="2.5" fill="url(#gG)"/>
<circle cx="195" cy="175.8" r="2.5" fill="url(#gG)"/>
<circle cx="308.8" cy="174.5" r="2.6" fill="url(#gG)"/>
<circle cx="268" cy="202.4" r="2.6" fill="url(#gG)"/>
<circle cx="272.1" cy="172.6" r="3.4" fill="url(#gG)"/>
<circle cx="231.4" cy="198.1" r="3.4" fill="url(#gG)"/>
<circle cx="199.4" cy="148.9" r="3.5" fill="url(#gG)"/>
<circle cx="281.1" cy="207.6" r="3.5" fill="url(#gG)"/>
<circle cx="296.9" cy="174.6" r="3.3" fill="url(#gG)"/>
<circle cx="284.4" cy="205.2" r="3.3" fill="url(#gG)"/>
<circle cx="221.2" cy="163.7" r="2.6" fill="url(#gG)"/>
<circle cx="198.3" cy="178.9" r="2.6" fill="url(#gG)"/>
<circle cx="285.3" cy="170.9" r="3.3" fill="url(#gG)"/>
<circle cx="280.7" cy="208.5" r="3.3" fill="url(#gG)"/>
<circle cx="261.3" cy="177.3" r="3" fill="url(#gG)"/>
<circle cx="257.6" cy="202.4" r="3" fill="url(#gG)"/>
<circle cx="272.1" cy="172.8" r="3.6" fill="url(#gG)"/>
<circle cx="301.3" cy="214.4" r="3.6" fill="url(#gG)"/>
<circle cx="225.4" cy="168.8" r="2.7" fill="url(#gG)"/>
<circle cx="309.2" cy="214.2" r="2.7" fill="url(#gG)"/>
<circle cx="233.5" cy="173.1" r="3.5" fill="url(#gG)"/>
<circle cx="222.8" cy="196" r="3.5" fill="url(#gG)"/>
<circle cx="270.8" cy="174.2" r="3.3" fill="url(#gG)"/>
<circle cx="313.4" cy="215.2" r="3.3" fill="url(#gG)"/>
<circle cx="296.4" cy="176" r="3.3" fill="url(#gG)"/>
<circle cx="247.1" cy="202.3" r="3.3" fill="url(#gG)"/>
<circle cx="263.4" cy="176" r="2.8" fill="url(#gG)"/>
<circle cx="269.8" cy="201.2" r="2.8" fill="url(#gG)"/>
<circle cx="305.1" cy="174.3" r="2.6" fill="url(#gG)"/>
<circle cx="206.6" cy="187.4" r="2.6" fill="url(#gG)"/>
<circle cx="235.7" cy="171.8" r="2.6" fill="url(#gG)"/>
<circle cx="198.6" cy="182.5" r="2.6" fill="url(#gG)"/>
<circle cx="271.2" cy="174.4" r="3.3" fill="url(#gG)"/>
<circle cx="201.6" cy="183.6" r="3.3" fill="url(#gG)"/>
<circle cx="238" cy="174.4" r="3.4" fill="url(#gG)"/>
<circle cx="302.7" cy="212.5" r="3.4" fill="url(#gG)"/>
<circle cx="299.8" cy="177.5" r="3.5" fill="url(#gG)"/>
<circle cx="206.6" cy="184.9" r="3.5" fill="url(#gG)"/>
<circle cx="207.2" cy="157.9" r="2.5" fill="url(#gG)"/>
<circle cx="293" cy="209" r="2.5" fill="url(#gG)"/>
<circle cx="294.6" cy="172.7" r="3.2" fill="url(#gG)"/>
<circle cx="205.7" cy="182.8" r="3.2" fill="url(#gG)"/>
<circle cx="286.3" cy="168.5" r="2.7" fill="url(#gG)"/>
<circle cx="245.4" cy="199.7" r="2.7" fill="url(#gG)"/>
<circle cx="224.9" cy="168.7" r="2.8" fill="url(#gG)"/>
<circle cx="238.6" cy="199.6" r="2.8" fill="url(#gG)"/>
<circle cx="311.6" cy="176.6" r="3" fill="url(#gG)"/>
<circle cx="269.2" cy="199.8" r="3" fill="url(#gG)"/>
<circle cx="244.1" cy="174.5" r="3" fill="url(#gG)"/>
<circle cx="236" cy="200.2" r="3" fill="url(#gG)"/>
<circle cx="259.4" cy="177" r="2.7" fill="url(#gG)"/>
<circle cx="204.6" cy="184.7" r="2.7" fill="url(#gG)"/>
<circle cx="214.4" cy="157.5" r="2.5" fill="url(#gG)"/>
<circle cx="286.9" cy="205.6" r="2.5" fill="url(#gG)"/>
<circle cx="194" cy="140.5" r="3" fill="url(#gG)"/>
<circle cx="291.1" cy="207.1" r="3" fill="url(#gG)"/>
<circle cx="254.1" cy="179.5" r="2.9" fill="url(#gG)"/>
<circle cx="225.4" cy="197.1" r="2.9" fill="url(#gG)"/>
<circle cx="228.3" cy="172" r="2.7" fill="url(#gG)"/>
<circle cx="254.5" cy="200.9" r="2.7" fill="url(#gG)"/>
<circle cx="271.5" cy="174.6" r="2.6" fill="url(#gG)"/>
<circle cx="278.9" cy="207.7" r="2.6" fill="url(#gG)"/>
<circle cx="270.4" cy="173.1" r="2.9" fill="url(#gG)"/>
<circle cx="241.8" cy="202.7" r="2.9" fill="url(#gG)"/>
<circle cx="204.1" cy="153.5" r="3.5" fill="url(#gG)"/>
<circle cx="218.7" cy="190.7" r="3.5" fill="url(#gG)"/>
<circle cx="303.9" cy="174.4" r="3" fill="url(#gG)"/>
<circle cx="301.8" cy="213.9" r="3" fill="url(#gG)"/>
<circle cx="250" cy="177.8" r="3.1" fill="url(#gG)"/>
<circle cx="285.7" cy="204.4" r="3.1" fill="url(#gG)"/>
<circle cx="236.2" cy="172.2" r="2.8" fill="url(#gG)"/>
<circle cx="296.8" cy="213.4" r="2.8" fill="url(#gG)"/>
<circle cx="284.4" cy="169.7" r="2.7" fill="url(#gG)"/>
<circle cx="288.2" cy="204.5" r="2.7" fill="url(#gG)"/>
<circle cx="208.9" cy="157.1" r="3" fill="url(#gG)"/>
<circle cx="222.6" cy="193.5" r="3" fill="url(#gG)"/>
<circle cx="230.4" cy="175.5" r="3.3" fill="url(#gG)"/>
<circle cx="212.4" cy="185.2" r="3.3" fill="url(#gG)"/>
<circle cx="223.8" cy="168.1" r="2.8" fill="url(#gG)"/>
<circle cx="213.2" cy="185" r="2.8" fill="url(#gG)"/>
<circle cx="216.7" cy="165" r="3.6" fill="url(#gG)"/>
<circle cx="206" cy="185.8" r="3.6" fill="url(#gG)"/>
<circle cx="206" cy="156.9" r="2.9" fill="url(#gG)"/>
<circle cx="290.9" cy="209" r="2.9" fill="url(#gG)"/>
<circle cx="246.8" cy="176.2" r="2.7" fill="url(#gG)"/>
<circle cx="206.6" cy="184.9" r="2.7" fill="url(#gG)"/>
<circle cx="241.1" cy="171.3" r="2.5" fill="url(#gG)"/>
<circle cx="290.4" cy="206.6" r="2.5" fill="url(#gG)"/>
<circle cx="254.8" cy="179.2" r="3.2" fill="url(#gG)"/>
<circle cx="210.9" cy="188.1" r="3.2" fill="url(#gG)"/>
<circle cx="243.1" cy="175.3" r="3.3" fill="url(#gG)"/>
<circle cx="246.2" cy="202.3" r="3.3" fill="url(#gG)"/>
<circle cx="285.3" cy="168.7" r="3" fill="url(#gG)"/>
<circle cx="282" cy="209.9" r="3" fill="url(#gG)"/>
<circle cx="288.3" cy="172.3" r="3.3" fill="url(#gG)"/>
<circle cx="276.8" cy="206.1" r="3.3" fill="url(#gG)"/>
<circle cx="249.1" cy="176.8" r="2.8" fill="url(#gG)"/>
<circle cx="205.5" cy="183.3" r="2.8" fill="url(#gG)"/>
<circle cx="289.3" cy="170.9" r="3.3" fill="url(#gG)"/>
<circle cx="224.1" cy="195.7" r="3.3" fill="url(#gG)"/>
<circle cx="249.3" cy="176" r="3.2" fill="url(#gG)"/>
<circle cx="276.2" cy="206.9" r="3.2" fill="url(#gG)"/>
<circle cx="215.9" cy="163.1" r="3.2" fill="url(#gG)"/>
<circle cx="241.1" cy="199.9" r="3.2" fill="url(#gG)"/>
<circle cx="312.9" cy="175.6" r="2.5" fill="url(#gG)"/>
<circle cx="213.2" cy="186.6" r="2.5" fill="url(#gG)"/>
<circle cx="308.7" cy="174.2" r="3.1" fill="url(#gG)"/>
<circle cx="263.9" cy="201.5" r="3.1" fill="url(#gG)"/>
<circle cx="281.4" cy="170.2" r="3.1" fill="url(#gG)"/>
<circle cx="295.1" cy="211" r="3.1" fill="url(#gG)"/>
<circle cx="243.8" cy="172.5" r="3.6" fill="url(#gG)"/>
<circle cx="277.3" cy="205.2" r="3.6" fill="url(#gG)"/>
<circle cx="286.9" cy="172.3" r="2.6" fill="url(#gG)"/>
<circle cx="237" cy="199.5" r="2.6" fill="url(#gG)"/>
<circle cx="227.1" cy="168.3" r="2.9" fill="url(#gG)"/>
<circle cx="244.8" cy="201.1" r="2.9" fill="url(#gG)"/>
<circle cx="279" cy="171" r="2.9" fill="url(#gG)"/>
<circle cx="221" cy="194.9" r="2.9" fill="url(#gG)"/>
<circle cx="308.6" cy="174.6" r="3.1" fill="url(#gG)"/>
<circle cx="291.7" cy="207.3" r="3.1" fill="url(#gG)"/>
<circle cx="219.5" cy="166.6" r="2.6" fill="url(#gG)"/>
<circle cx="292.7" cy="209" r="2.6" fill="url(#gG)"/>
<circle cx="251" cy="177.5" r="3.1" fill="url(#gG)"/>
<circle cx="311.6" cy="213.8" r="3.1" fill="url(#gG)"/>
<circle cx="271.8" cy="174.9" r="3.4" fill="url(#gG)"/>
<circle cx="250.8" cy="202" r="3.4" fill="url(#gG)"/>
<circle cx="260.7" cy="177.4" r="2.6" fill="url(#gG)"/>
<circle cx="237" cy="202.3" r="2.6" fill="url(#gG)"/>
<circle cx="226.3" cy="167.8" r="2.9" fill="url(#gG)"/>
<circle cx="245.7" cy="200.9" r="2.9" fill="url(#gG)"/>
<circle cx="193.8" cy="139.7" r="3.3" fill="url(#gG)"/>
<circle cx="223.5" cy="195.3" r="3.3" fill="url(#gG)"/>
<circle cx="252.2" cy="177.5" r="3" fill="url(#gG)"/>
<circle cx="274.3" cy="205.2" r="3" fill="url(#gG)"/>
<circle cx="307.3" cy="206.5" r="0.8" fill="#9a9a9a" opacity="0.7"/>
<circle cx="200.5" cy="175.8" r="0.8" fill="#9a9a9a" opacity="0.7"/>
<circle cx="304.5" cy="205.6" r="0.8" fill="#9a9a9a" opacity="0.7"/>
<circle cx="210.7" cy="182.5" r="0.8" fill="#9a9a9a" opacity="0.7"/>
<circle cx="271.1" cy="174.2" r="0.8" fill="#9a9a9a" opacity="0.7"/>
<circle cx="194.9" cy="173.8" r="0.8" fill="#9a9a9a" opacity="0.7"/>
<circle cx="273.9" cy="180.7" r="0.8" fill="#9a9a9a" opacity="0.7"/>
<circle cx="205.9" cy="159.4" r="0.8" fill="#9a9a9a" opacity="0.7"/>
<circle cx="222.1" cy="188.7" r="0.8" fill="#9a9a9a" opacity="0.7"/>
<circle cx="235.9" cy="177.5" r="0.8" fill="#9a9a9a" opacity="0.7"/>
<circle cx="304.3" cy="205.9" r="0.8" fill="#9a9a9a" opacity="0.7"/>
<circle cx="214.1" cy="184.6" r="0.8" fill="#9a9a9a" opacity="0.7"/>
<circle cx="268" cy="196.2" r="0.8" fill="#9a9a9a" opacity="0.7"/>
<circle cx="275.4" cy="201" r="0.8" fill="#9a9a9a" opacity="0.7"/>
<circle cx="290" cy="200" r="0.8" fill="#9a9a9a" opacity="0.7"/>
<circle cx="217.7" cy="183.6" r="0.8" fill="#9a9a9a" opacity="0.7"/>
<circle cx="258.5" cy="196.8" r="0.8" fill="#9a9a9a" opacity="0.7"/>
<circle cx="247.2" cy="198.3" r="0.8" fill="#9a9a9a" opacity="0.7"/>
<circle cx="261.5" cy="183.4" r="0.8" fill="#9a9a9a" opacity="0.7"/>
<circle cx="222.2" cy="170" r="0.8" fill="#9a9a9a" opacity="0.7"/>
<circle cx="253.9" cy="179.8" r="0.8" fill="#9a9a9a" opacity="0.7"/>
<circle cx="250.7" cy="182.1" r="0.8" fill="#9a9a9a" opacity="0.7"/>
<circle cx="253.7" cy="189.8" r="0.8" fill="#9a9a9a" opacity="0.7"/>
<circle cx="259.6" cy="199.8" r="0.8" fill="#9a9a9a" opacity="0.7"/>
<circle cx="194.3" cy="169.3" r="0.8" fill="#9a9a9a" opacity="0.7"/>
<circle cx="250.8" cy="192.1" r="0.8" fill="#9a9a9a" opacity="0.7"/>
<circle cx="275" cy="199.2" r="0.8" fill="#9a9a9a" opacity="0.7"/>
<circle cx="239.4" cy="184.2" r="0.8" fill="#9a9a9a" opacity="0.7"/>
<circle cx="311.2" cy="176.7" r="0.8" fill="#9a9a9a" opacity="0.7"/>
<circle cx="271.5" cy="192.9" r="0.8" fill="#9a9a9a" opacity="0.7"/>
<circle cx="197" cy="165" r="0.8" fill="#9a9a9a" opacity="0.7"/>
<circle cx="277.1" cy="203" r="0.8" fill="#9a9a9a" opacity="0.7"/>
<circle cx="234" cy="197.7" r="0.8" fill="#9a9a9a" opacity="0.7"/>
<circle cx="256.1" cy="191.2" r="0.8" fill="#9a9a9a" opacity="0.7"/>
<circle cx="303.5" cy="176.5" r="0.8" fill="#9a9a9a" opacity="0.7"/>
<circle cx="281.5" cy="194.5" r="0.8" fill="#9a9a9a" opacity="0.7"/>
<circle cx="235" cy="194.6" r="0.8" fill="#9a9a9a" opacity="0.7"/>
<circle cx="238.4" cy="185.8" r="0.8" fill="#9a9a9a" opacity="0.7"/>
<circle cx="257.9" cy="197.2" r="0.8" fill="#9a9a9a" opacity="0.7"/>
<circle cx="219.3" cy="176.9" r="0.8" fill="#9a9a9a" opacity="0.7"/>
<circle cx="245.2" cy="189" r="0.8" fill="#9a9a9a" opacity="0.7"/>
<circle cx="294.8" cy="184.5" r="0.8" fill="#9a9a9a" opacity="0.7"/>
<circle cx="294.9" cy="188.6" r="0.8" fill="#9a9a9a" opacity="0.7"/>
<circle cx="255.2" cy="185.7" r="0.8" fill="#9a9a9a" opacity="0.7"/>
<circle cx="255.5" cy="201.9" r="0.8" fill="#9a9a9a" opacity="0.7"/>
<circle cx="273.7" cy="198.7" r="0.8" fill="#9a9a9a" opacity="0.7"/>
<circle cx="234" cy="181.5" r="0.8" fill="#9a9a9a" opacity="0.7"/>
<circle cx="230.2" cy="188.3" r="0.8" fill="#9a9a9a" opacity="0.7"/>
<circle cx="271.3" cy="195.9" r="0.8" fill="#9a9a9a" opacity="0.7"/>
<circle cx="198.4" cy="170" r="0.8" fill="#9a9a9a" opacity="0.7"/>
<circle cx="302" cy="197" r="0.8" fill="#9a9a9a" opacity="0.7"/>
<circle cx="199.6" cy="159.4" r="0.8" fill="#9a9a9a" opacity="0.7"/>
<circle cx="194.3" cy="147.1" r="0.8" fill="#9a9a9a" opacity="0.7"/>
<circle cx="306.4" cy="198.6" r="0.8" fill="#9a9a9a" opacity="0.7"/>
<circle cx="274.1" cy="198.6" r="0.8" fill="#9a9a9a" opacity="0.7"/>
<circle cx="305" cy="199" r="0.8" fill="#9a9a9a" opacity="0.7"/>
<circle cx="269" cy="191.7" r="0.8" fill="#9a9a9a" opacity="0.7"/>
<circle cx="278.8" cy="192.6" r="0.8" fill="#9a9a9a" opacity="0.7"/>
<circle cx="276.9" cy="177.8" r="0.8" fill="#9a9a9a" opacity="0.7"/>
<circle cx="275.2" cy="186.5" r="0.8" fill="#9a9a9a" opacity="0.7"/>
<circle cx="286.9" cy="174.1" r="0.8" fill="#9a9a9a" opacity="0.7"/>
<circle cx="215.7" cy="163.3" r="0.8" fill="#9a9a9a" opacity="0.7"/>
<circle cx="288.4" cy="201.3" r="0.8" fill="#9a9a9a" opacity="0.7"/>
<circle cx="273.8" cy="184.6" r="0.8" fill="#9a9a9a" opacity="0.7"/>
<circle cx="294.3" cy="202.7" r="0.8" fill="#9a9a9a" opacity="0.7"/>
<circle cx="262.4" cy="183.2" r="0.8" fill="#9a9a9a" opacity="0.7"/>
<circle cx="230.5" cy="184.4" r="0.8" fill="#9a9a9a" opacity="0.7"/>
<circle cx="232.5" cy="185.1" r="0.8" fill="#9a9a9a" opacity="0.7"/>
<circle cx="272.1" cy="201.7" r="0.8" fill="#9a9a9a" opacity="0.7"/>
<circle cx="200.2" cy="167.7" r="0.8" fill="#9a9a9a" opacity="0.7"/>
<circle cx="198.3" cy="149.5" r="0.8" fill="#9a9a9a" opacity="0.7"/>
<circle cx="292.8" cy="193.8" r="0.8" fill="#9a9a9a" opacity="0.7"/>
<path d="M192.5 40.6 193.5 39.9 194.5 38 195.5 37.6 196.5 37.7 197.5 38.7 198.5 40 199.5 39.7 200.5 39.3 201.5 38.1 202.5 38.9 203.5 38.2 204.5 37.7 205.5 36.9 206.5 36.3 207.5 37.9 208.5 37.5 209.5 39.6 210.5 38.8 211.5 40.5 212.5 39.7 213.5 38.8 214.5 40.2 215.5 40 216.5 41.3 217.5 40.9 218.5 40.4 219.5 42.1 220.5 43.3 221.5 44.7 222.5 45.4 223.5 44.3 224.5 45.1 225.5 45.7 226.5 45.2 227.5 46.1 228.5 44.9 229.5 45.9 230.5 45.8 231.5 43.3 232.5 41.2 233.5 41.2 234.5 41.5 235.5 39.5 236.5 38.5 237.5 38.7 238.5 37.8 239.5 39.3 240.5 39.4 241.5 38.3 242.5 38.5 243.5 39.2 244.5 39.4 245.5 40.3 246.5 39.5 247.5 40.9 248.5 40.9 249.5 41.7 250.5 42.4 251.5 42.4 252.5 42.4 253.5 43.7 254.5 45.3 255.5 46.8 256.5 47.6 257.5 47.8 258.5 47.5 259.5 50.2 260.5 51.5 261.5 52.9 262.5 52.8 263.5 53.6 264.5 55.5 265.5 56.7 266.5 57.2 267.5 56.9 268.5 57.2 269.5 58.8 270.5 58.4 271.5 59.1 272.5 59.5 273.5 60.7 274.5 61.5 275.5 60.7 276.5 59.4 277.5 59.1 278.5 59.5 279.5 60.3 280.5 61.6 281.5 62.8 282.5 61.5 283.5 62.8 284.5 63.7 285.5 64.7 286.5 64.8 287.5 64.1 288.5 65.3 289.5 66.2 290.5 66.6 291.5 67.7 292.5 67 293.5 65.8 294.5 66.4 295.5 67.5 296.5 66.7 297.5 67.7 298.5 69.1 299.5 68.2 300.5 68.7 301.5 69.4 302.5 69.3 303.5 68.6 304.5 68.3 305.5 69.4 306.5 70.4 307.5 70.3 308.5 69.2 309.5 70.4 310.5 71.3 311.5 70.5 312.5 71 313.5 72.2 314.5 73 315.5 72.7 316.5 72.3 317.5 72.4 318.5 71.4 L318.5 79.8 317.5 78.3 316.5 79.6 315.5 77.8 314.5 78.8 313.5 77.2 312.5 77.3 311.5 77 310.5 77.7 309.5 78.1 308.5 76.7 307.5 77 306.5 77.7 305.5 77.8 304.5 78.5 303.5 77 302.5 77.3 301.5 76.5 300.5 74.9 299.5 75.4 298.5 75.6 297.5 76.3 296.5 75.6 295.5 75.5 294.5 74.2 293.5 74.9 292.5 75.5 291.5 75.6 290.5 74.8 289.5 73.5 288.5 74.8 287.5 75.1 286.5 76.7 285.5 76 284.5 74.6 283.5 72.5 282.5 72.6 281.5 70.3 280.5 70.6 279.5 70.6 278.5 68.9 277.5 69.4 276.5 67.7 275.5 67.5 274.5 66.9 273.5 66.7 272.5 65.5 271.5 65.5 270.5 65.3 269.5 65 268.5 65.8 267.5 64.7 266.5 64.1 265.5 64.6 264.5 64 263.5 62.3 262.5 60.9 261.5 61.6 260.5 62.9 259.5 61.1 258.5 59.5 257.5 57.6 256.5 55.4 255.5 55.6 254.5 53.5 253.5 52.1 252.5 50.6 251.5 50.7 250.5 51.2 249.5 52.7 248.5 54 247.5 52.9 246.5 51.5 245.5 52.8 244.5 53.4 243.5 54.3 242.5 54.4 241.5 53.4 240.5 53.2 239.5 53.1 238.5 54.1 237.5 52.9 236.5 54.7 235.5 55.8 234.5 56.3 233.5 58.8 232.5 58.6 231.5 57.9 230.5 58.7 229.5 56.5 228.5 54.9 227.5 54.9 226.5 55 225.5 55 224.5 55.3 223.5 56.7 222.5 57.8 221.5 56.8 220.5 56.1 219.5 55.4 218.5 53.9 217.5 53.9 216.5 52.8 215.5 53.4 214.5 53.3 213.5 53.5 212.5 52.3 211.5 50.3 210.5 51.2 209.5 52.4 208.5 52.2 207.5 52.5 206.5 52.1 205.5 52.9 204.5 51.7 203.5 50.7 202.5 51.4 201.5 51.5 200.5 49.4 199.5 50.1 198.5 50.8 197.5 50.4 196.5 51.4 195.5 51.8 194.5 52.9 193.5 52.8 192.5 54.3Z" fill="#1f6dd0" stroke="#1f6dd0" stroke-width="4.1" stroke-linejoin="round"/>
<circle cx="276.7" cy="59.2" r="2.7" fill="url(#gB)"/>
<circle cx="228.6" cy="54.3" r="2.7" fill="url(#gB)"/>
<circle cx="217.9" cy="42.4" r="2.9" fill="url(#gB)"/>
<circle cx="318.3" cy="79.8" r="2.9" fill="url(#gB)"/>
<circle cx="204.8" cy="38.8" r="2.8" fill="url(#gB)"/>
<circle cx="199.7" cy="50.9" r="2.8" fill="url(#gB)"/>
<circle cx="229.5" cy="43.2" r="3.6" fill="url(#gB)"/>
<circle cx="294.2" cy="74.6" r="3.6" fill="url(#gB)"/>
<circle cx="210.2" cy="40.6" r="2.5" fill="url(#gB)"/>
<circle cx="258.8" cy="58.6" r="2.5" fill="url(#gB)"/>
<circle cx="247.3" cy="38.5" r="3.5" fill="url(#gB)"/>
<circle cx="264.5" cy="61.2" r="3.5" fill="url(#gB)"/>
<circle cx="215.2" cy="40.8" r="3.4" fill="url(#gB)"/>
<circle cx="217.3" cy="51.5" r="3.4" fill="url(#gB)"/>
<circle cx="203.5" cy="38.1" r="3.2" fill="url(#gB)"/>
<circle cx="227" cy="54.2" r="3.2" fill="url(#gB)"/>
<circle cx="269.7" cy="59.6" r="3.3" fill="url(#gB)"/>
<circle cx="265.9" cy="63.7" r="3.3" fill="url(#gB)"/>
<circle cx="200.8" cy="38.9" r="3.3" fill="url(#gB)"/>
<circle cx="283.4" cy="71.3" r="3.3" fill="url(#gB)"/>
<circle cx="294.6" cy="67.3" r="2.9" fill="url(#gB)"/>
<circle cx="301.4" cy="75" r="2.9" fill="url(#gB)"/>
<circle cx="194.4" cy="39.7" r="3.5" fill="url(#gB)"/>
<circle cx="302.4" cy="75.8" r="3.5" fill="url(#gB)"/>
<circle cx="215.9" cy="39.4" r="3.4" fill="url(#gB)"/>
<circle cx="213.1" cy="52" r="3.4" fill="url(#gB)"/>
<circle cx="267.5" cy="57.1" r="2.5" fill="url(#gB)"/>
<circle cx="248.7" cy="54.2" r="2.5" fill="url(#gB)"/>
<circle cx="207.7" cy="38.8" r="3.3" fill="url(#gB)"/>
<circle cx="301.5" cy="76" r="3.3" fill="url(#gB)"/>
<circle cx="282.1" cy="63.5" r="2.9" fill="url(#gB)"/>
<circle cx="200.2" cy="51.4" r="2.9" fill="url(#gB)"/>
<circle cx="312.7" cy="70.9" r="3" fill="url(#gB)"/>
<circle cx="259.3" cy="59.7" r="3" fill="url(#gB)"/>
<circle cx="195.1" cy="37" r="3.6" fill="url(#gB)"/>
<circle cx="215.5" cy="52.1" r="3.6" fill="url(#gB)"/>
<circle cx="224.1" cy="42.7" r="3.4" fill="url(#gB)"/>
<circle cx="204.7" cy="52.4" r="3.4" fill="url(#gB)"/>
<circle cx="217.1" cy="41.5" r="2.5" fill="url(#gB)"/>
<circle cx="265.1" cy="64.1" r="2.5" fill="url(#gB)"/>
<circle cx="281" cy="62.7" r="2.6" fill="url(#gB)"/>
<circle cx="282.9" cy="71.3" r="2.6" fill="url(#gB)"/>
<circle cx="208" cy="37.8" r="3" fill="url(#gB)"/>
<circle cx="227.7" cy="53.8" r="3" fill="url(#gB)"/>
<circle cx="243.6" cy="39.4" r="2.6" fill="url(#gB)"/>
<circle cx="301" cy="73.9" r="2.6" fill="url(#gB)"/>
<circle cx="264.7" cy="54.3" r="3.3" fill="url(#gB)"/>
<circle cx="296.6" cy="77.2" r="3.3" fill="url(#gB)"/>
<circle cx="241.5" cy="40.4" r="3" fill="url(#gB)"/>
<circle cx="258.7" cy="59.3" r="3" fill="url(#gB)"/>
<circle cx="311.1" cy="70.7" r="3.4" fill="url(#gB)"/>
<circle cx="222.8" cy="57.4" r="3.4" fill="url(#gB)"/>
<circle cx="247.4" cy="40.4" r="3.6" fill="url(#gB)"/>
<circle cx="307.5" cy="78.1" r="3.6" fill="url(#gB)"/>
<circle cx="299.3" cy="69" r="2.5" fill="url(#gB)"/>
<circle cx="313.2" cy="78.8" r="2.5" fill="url(#gB)"/>
<circle cx="223.9" cy="44.6" r="3" fill="url(#gB)"/>
<circle cx="238.4" cy="53.1" r="3" fill="url(#gB)"/>
<circle cx="201.2" cy="39.2" r="3" fill="url(#gB)"/>
<circle cx="195.1" cy="51.8" r="3" fill="url(#gB)"/>
<circle cx="314.7" cy="74.3" r="3.4" fill="url(#gB)"/>
<circle cx="272.3" cy="66.6" r="3.4" fill="url(#gB)"/>
<circle cx="303.9" cy="67" r="3.5" fill="url(#gB)"/>
<circle cx="273.3" cy="64.9" r="3.5" fill="url(#gB)"/>
<circle cx="278" cy="59.2" r="2.8" fill="url(#gB)"/>
<circle cx="309" cy="77.2" r="2.8" fill="url(#gB)"/>
<circle cx="224.1" cy="44" r="3.1" fill="url(#gB)"/>
<circle cx="312.3" cy="76.4" r="3.1" fill="url(#gB)"/>
<circle cx="231" cy="44.5" r="3.2" fill="url(#gB)"/>
<circle cx="267.4" cy="65.7" r="3.2" fill="url(#gB)"/>
<circle cx="257.2" cy="47.4" r="2.8" fill="url(#gB)"/>
<circle cx="259.8" cy="60.1" r="2.8" fill="url(#gB)"/>
<circle cx="208.1" cy="37.1" r="2.6" fill="url(#gB)"/>
<circle cx="243.7" cy="53.7" r="2.6" fill="url(#gB)"/>
<circle cx="223.2" cy="45.5" r="2.6" fill="url(#gB)"/>
<circle cx="298.3" cy="76.8" r="2.6" fill="url(#gB)"/>
<circle cx="264.3" cy="52.6" r="3.2" fill="url(#gB)"/>
<circle cx="282" cy="70.2" r="3.2" fill="url(#gB)"/>
<circle cx="261.6" cy="52.7" r="3.2" fill="url(#gB)"/>
<circle cx="231.6" cy="57.2" r="3.2" fill="url(#gB)"/>
<circle cx="220.4" cy="41.6" r="3.1" fill="url(#gB)"/>
<circle cx="266.3" cy="63.1" r="3.1" fill="url(#gB)"/>
<circle cx="236.9" cy="37.6" r="3.5" fill="url(#gB)"/>
<circle cx="262.6" cy="61" r="3.5" fill="url(#gB)"/>
<circle cx="228.4" cy="45.4" r="3.6" fill="url(#gB)"/>
<circle cx="289.8" cy="72.5" r="3.6" fill="url(#gB)"/>
<circle cx="200.9" cy="39" r="3.5" fill="url(#gB)"/>
<circle cx="200.3" cy="49.9" r="3.5" fill="url(#gB)"/>
<circle cx="247.9" cy="39.5" r="3.3" fill="url(#gB)"/>
<circle cx="220.9" cy="57.6" r="3.3" fill="url(#gB)"/>
<circle cx="285.6" cy="64.1" r="2.6" fill="url(#gB)"/>
<circle cx="236.9" cy="55.4" r="2.6" fill="url(#gB)"/>
<circle cx="270.2" cy="59.7" r="3.5" fill="url(#gB)"/>
<circle cx="257.7" cy="58.5" r="3.5" fill="url(#gB)"/>
<circle cx="286.2" cy="64.5" r="3.3" fill="url(#gB)"/>
<circle cx="291.4" cy="75.6" r="3.3" fill="url(#gB)"/>
<circle cx="307.8" cy="71.4" r="2.6" fill="url(#gB)"/>
<circle cx="193" cy="55.3" r="2.6" fill="url(#gB)"/>
<circle cx="266.3" cy="58.1" r="3" fill="url(#gB)"/>
<circle cx="264.6" cy="63.8" r="3" fill="url(#gB)"/>
<circle cx="291.2" cy="66.8" r="3.5" fill="url(#gB)"/>
<circle cx="240.3" cy="53.1" r="3.5" fill="url(#gB)"/>
<circle cx="250.2" cy="40.9" r="3.3" fill="url(#gB)"/>
<circle cx="241.7" cy="53.7" r="3.3" fill="url(#gB)"/>
<circle cx="240.9" cy="40.2" r="2.8" fill="url(#gB)"/>
<circle cx="299.5" cy="75.5" r="2.8" fill="url(#gB)"/>
<circle cx="248.4" cy="40.1" r="2.7" fill="url(#gB)"/>
<circle cx="210.8" cy="51.5" r="2.7" fill="url(#gB)"/>
<circle cx="265.8" cy="58" r="2.6" fill="url(#gB)"/>
<circle cx="233.3" cy="59.8" r="2.6" fill="url(#gB)"/>
<circle cx="298.1" cy="66.7" r="3.6" fill="url(#gB)"/>
<circle cx="246.2" cy="54.2" r="3.6" fill="url(#gB)"/>
<circle cx="193.8" cy="40" r="2.5" fill="url(#gB)"/>
<circle cx="255.2" cy="55" r="2.5" fill="url(#gB)"/>
<circle cx="290" cy="67.7" r="3.1" fill="url(#gB)"/>
<circle cx="257.7" cy="57.8" r="3.1" fill="url(#gB)"/>
<circle cx="278.8" cy="58.9" r="2.9" fill="url(#gB)"/>
<circle cx="267.4" cy="63.8" r="2.9" fill="url(#gB)"/>
<circle cx="311.9" cy="70.5" r="3.2" fill="url(#gB)"/>
<circle cx="205" cy="51.4" r="3.2" fill="url(#gB)"/>
<circle cx="243" cy="38.6" r="3.1" fill="url(#gB)"/>
<circle cx="303.4" cy="78.9" r="3.1" fill="url(#gB)"/>
<circle cx="253.8" cy="44" r="3" fill="url(#gB)"/>
<circle cx="318" cy="77.9" r="3" fill="url(#gB)"/>
<circle cx="259.3" cy="46.4" r="3.4" fill="url(#gB)"/>
<circle cx="232.6" cy="60.2" r="3.4" fill="url(#gB)"/>
<circle cx="296.6" cy="65.3" r="3.1" fill="url(#gB)"/>
<circle cx="305.2" cy="79.2" r="3.1" fill="url(#gB)"/>
<circle cx="295.9" cy="68.6" r="3.6" fill="url(#gB)"/>
<circle cx="245.5" cy="51.8" r="3.6" fill="url(#gB)"/>
<circle cx="229" cy="44.8" r="3.1" fill="url(#gB)"/>
<circle cx="216.2" cy="52.5" r="3.1" fill="url(#gB)"/>
<circle cx="271.9" cy="58.5" r="3.2" fill="url(#gB)"/>
<circle cx="317.7" cy="78.9" r="3.2" fill="url(#gB)"/>
<circle cx="197.8" cy="39.5" r="2.9" fill="url(#gB)"/>
<circle cx="231.1" cy="59.4" r="2.9" fill="url(#gB)"/>
<circle cx="193" cy="41.6" r="2.8" fill="url(#gB)"/>
<circle cx="266.4" cy="65.2" r="2.8" fill="url(#gB)"/>
<circle cx="217.3" cy="41.4" r="3" fill="url(#gB)"/>
<circle cx="226" cy="55.6" r="3" fill="url(#gB)"/>
<circle cx="259.5" cy="47.7" r="3.6" fill="url(#gB)"/>
<circle cx="244.3" cy="53.2" r="3.6" fill="url(#gB)"/>
<circle cx="212.3" cy="39.1" r="3.3" fill="url(#gB)"/>
<circle cx="205.1" cy="50.7" r="3.3" fill="url(#gB)"/>
<circle cx="258.3" cy="48" r="3.4" fill="url(#gB)"/>
<circle cx="294.1" cy="73.7" r="3.4" fill="url(#gB)"/>
<circle cx="194.1" cy="39.2" r="3.4" fill="url(#gB)"/>
<circle cx="282.6" cy="72.3" r="3.4" fill="url(#gB)"/>
<circle cx="213.8" cy="37.4" r="2.8" fill="url(#gB)"/>
<circle cx="306.4" cy="78.2" r="2.8" fill="url(#gB)"/>
<circle cx="236.5" cy="39.1" r="3" fill="url(#gB)"/>
<circle cx="199.4" cy="52.1" r="3" fill="url(#gB)"/>
<circle cx="265.9" cy="56.4" r="3.6" fill="url(#gB)"/>
<circle cx="270.6" cy="64.6" r="3.6" fill="url(#gB)"/>
<circle cx="198" cy="39.8" r="3.5" fill="url(#gB)"/>
<circle cx="232.2" cy="59.3" r="3.5" fill="url(#gB)"/>
<circle cx="295.3" cy="66.6" r="2.8" fill="url(#gB)"/>
<circle cx="313.5" cy="77.4" r="2.8" fill="url(#gB)"/>
<circle cx="312.2" cy="70.1" r="2.7" fill="url(#gB)"/>
<circle cx="283" cy="71.8" r="2.7" fill="url(#gB)"/>
<circle cx="231.5" cy="45.7" r="3.5" fill="url(#gB)"/>
<circle cx="292.4" cy="74.9" r="3.5" fill="url(#gB)"/>
<circle cx="214.4" cy="37.7" r="2.9" fill="url(#gB)"/>
<circle cx="314.9" cy="78.2" r="2.9" fill="url(#gB)"/>
<circle cx="263.3" cy="52.8" r="2.6" fill="url(#gB)"/>
<circle cx="241.1" cy="53" r="2.6" fill="url(#gB)"/>
<circle cx="200.7" cy="40.2" r="2.6" fill="url(#gB)"/>
<circle cx="236.8" cy="54" r="2.6" fill="url(#gB)"/>
<circle cx="216.6" cy="44.6" r="0.8" fill="#79b2f2" opacity="0.7"/>
<circle cx="222.4" cy="45.1" r="0.8" fill="#79b2f2" opacity="0.7"/>
<circle cx="276.2" cy="63" r="0.8" fill="#79b2f2" opacity="0.7"/>
<circle cx="212.1" cy="47.4" r="0.8" fill="#79b2f2" opacity="0.7"/>
<circle cx="204.2" cy="41.6" r="0.8" fill="#79b2f2" opacity="0.7"/>
<circle cx="297.7" cy="68.8" r="0.8" fill="#79b2f2" opacity="0.7"/>
<circle cx="248.4" cy="50.9" r="0.8" fill="#79b2f2" opacity="0.7"/>
<circle cx="293.9" cy="67.3" r="0.8" fill="#79b2f2" opacity="0.7"/>
<circle cx="237" cy="50.2" r="0.8" fill="#79b2f2" opacity="0.7"/>
<circle cx="240" cy="52.5" r="0.8" fill="#79b2f2" opacity="0.7"/>
<circle cx="218.7" cy="53.2" r="0.8" fill="#79b2f2" opacity="0.7"/>
<circle cx="256.1" cy="48.8" r="0.8" fill="#79b2f2" opacity="0.7"/>
<circle cx="249.5" cy="43.2" r="0.8" fill="#79b2f2" opacity="0.7"/>
<circle cx="281.5" cy="64.8" r="0.8" fill="#79b2f2" opacity="0.7"/>
<circle cx="305.9" cy="74.3" r="0.8" fill="#79b2f2" opacity="0.7"/>
<circle cx="238.9" cy="41.8" r="0.8" fill="#79b2f2" opacity="0.7"/>
<circle cx="269.1" cy="59" r="0.8" fill="#79b2f2" opacity="0.7"/>
<circle cx="302.4" cy="70.2" r="0.8" fill="#79b2f2" opacity="0.7"/>
<circle cx="257.1" cy="51.8" r="0.8" fill="#79b2f2" opacity="0.7"/>
<circle cx="226.6" cy="52.8" r="0.8" fill="#79b2f2" opacity="0.7"/>
<circle cx="241" cy="48.5" r="0.8" fill="#79b2f2" opacity="0.7"/>
<circle cx="264" cy="56.3" r="0.8" fill="#79b2f2" opacity="0.7"/>
<circle cx="241.6" cy="39.6" r="0.8" fill="#79b2f2" opacity="0.7"/>
<circle cx="214.8" cy="51.3" r="0.8" fill="#79b2f2" opacity="0.7"/>
<circle cx="233" cy="52.7" r="0.8" fill="#79b2f2" opacity="0.7"/>
<circle cx="206.2" cy="45.9" r="0.8" fill="#79b2f2" opacity="0.7"/>
<circle cx="238" cy="45.8" r="0.8" fill="#79b2f2" opacity="0.7"/>
<circle cx="229.9" cy="46.6" r="0.8" fill="#79b2f2" opacity="0.7"/>
<circle cx="231.7" cy="46.6" r="0.8" fill="#79b2f2" opacity="0.7"/>
<circle cx="208.4" cy="48.4" r="0.8" fill="#79b2f2" opacity="0.7"/>
<circle cx="228.1" cy="49.7" r="0.8" fill="#79b2f2" opacity="0.7"/>
<circle cx="307" cy="76.1" r="0.8" fill="#79b2f2" opacity="0.7"/>
<circle cx="303.7" cy="75.8" r="0.8" fill="#79b2f2" opacity="0.7"/>
<circle cx="209.2" cy="41.6" r="0.8" fill="#79b2f2" opacity="0.7"/>
<circle cx="196.2" cy="47.2" r="0.8" fill="#79b2f2" opacity="0.7"/>
<circle cx="276.1" cy="63.1" r="0.8" fill="#79b2f2" opacity="0.7"/>
<circle cx="244.5" cy="49.1" r="0.8" fill="#79b2f2" opacity="0.7"/>
<circle cx="280.6" cy="63.8" r="0.8" fill="#79b2f2" opacity="0.7"/>
<circle cx="299.2" cy="71.4" r="0.8" fill="#79b2f2" opacity="0.7"/>
<circle cx="271.7" cy="60.3" r="0.8" fill="#79b2f2" opacity="0.7"/>
<circle cx="207" cy="50.7" r="0.8" fill="#79b2f2" opacity="0.7"/>
<circle cx="285" cy="71.5" r="0.8" fill="#79b2f2" opacity="0.7"/>
<circle cx="197.6" cy="39.2" r="0.8" fill="#79b2f2" opacity="0.7"/>
<circle cx="212.9" cy="42.2" r="0.8" fill="#79b2f2" opacity="0.7"/>
<circle cx="230.7" cy="50.7" r="0.8" fill="#79b2f2" opacity="0.7"/>
<circle cx="197.4" cy="42" r="0.8" fill="#79b2f2" opacity="0.7"/>
<circle cx="272.9" cy="60.6" r="0.8" fill="#79b2f2" opacity="0.7"/>
<circle cx="298.3" cy="72.6" r="0.8" fill="#79b2f2" opacity="0.7"/>
<circle cx="282.8" cy="64.3" r="0.8" fill="#79b2f2" opacity="0.7"/>
<circle cx="247.3" cy="47.7" r="0.8" fill="#79b2f2" opacity="0.7"/>
<circle cx="236.5" cy="39.6" r="0.8" fill="#79b2f2" opacity="0.7"/>
<circle cx="297.6" cy="74.4" r="0.8" fill="#79b2f2" opacity="0.7"/>
<circle cx="228.6" cy="45.3" r="0.8" fill="#79b2f2" opacity="0.7"/>
<circle cx="300.1" cy="72.6" r="0.8" fill="#79b2f2" opacity="0.7"/>
<circle cx="198.5" cy="41.6" r="0.8" fill="#79b2f2" opacity="0.7"/>
<circle cx="206.5" cy="48.8" r="0.8" fill="#79b2f2" opacity="0.7"/>
<circle cx="219" cy="52.7" r="0.8" fill="#79b2f2" opacity="0.7"/>
<circle cx="286.9" cy="65.8" r="0.8" fill="#79b2f2" opacity="0.7"/>
<circle cx="280" cy="64.4" r="0.8" fill="#79b2f2" opacity="0.7"/>
<circle cx="286.7" cy="74.7" r="0.8" fill="#79b2f2" opacity="0.7"/>
<circle cx="227.9" cy="46.9" r="0.8" fill="#79b2f2" opacity="0.7"/>
<circle cx="311.7" cy="73.3" r="0.8" fill="#79b2f2" opacity="0.7"/>
<circle cx="309.7" cy="75.7" r="0.8" fill="#79b2f2" opacity="0.7"/>
<circle cx="285.6" cy="74.1" r="0.8" fill="#79b2f2" opacity="0.7"/>
<circle cx="271.6" cy="62" r="0.8" fill="#79b2f2" opacity="0.7"/>
<circle cx="199.3" cy="47.5" r="0.8" fill="#79b2f2" opacity="0.7"/>
<circle cx="246.5" cy="46.7" r="0.8" fill="#79b2f2" opacity="0.7"/>
<circle cx="309.4" cy="70.1" r="0.8" fill="#79b2f2" opacity="0.7"/>
<circle cx="288.5" cy="65.7" r="0.8" fill="#79b2f2" opacity="0.7"/>
<circle cx="281" cy="68.9" r="0.8" fill="#79b2f2" opacity="0.7"/>
<circle cx="225.4" cy="50.7" r="0.8" fill="#79b2f2" opacity="0.7"/>
<circle cx="314.6" cy="76.7" r="0.8" fill="#79b2f2" opacity="0.7"/>
<circle cx="261" cy="54.3" r="0.8" fill="#79b2f2" opacity="0.7"/>
<circle cx="200" cy="43.4" r="0.8" fill="#79b2f2" opacity="0.7"/>
<circle cx="244.4" cy="42.2" r="0.8" fill="#79b2f2" opacity="0.7"/>
<rect x="187.6" y="58" width="6.2" height="232" fill="#1f6dd0"/>
<circle cx="190.9" cy="62" r="2.7" fill="url(#gB)"/>
<circle cx="190.6" cy="65.3" r="2.7" fill="url(#gB)"/>
<circle cx="191.5" cy="68.6" r="2.7" fill="url(#gB)"/>
<circle cx="191.5" cy="71.9" r="2.7" fill="url(#gB)"/>
<circle cx="190.8" cy="75.2" r="2.7" fill="url(#gB)"/>
<circle cx="190.8" cy="78.5" r="2.7" fill="url(#gB)"/>
<circle cx="191.2" cy="81.8" r="2.7" fill="url(#gB)"/>
<circle cx="191.1" cy="85.1" r="2.7" fill="url(#gB)"/>
<circle cx="191.9" cy="88.4" r="2.7" fill="url(#gB)"/>
<circle cx="191" cy="91.7" r="2.7" fill="url(#gB)"/>
<circle cx="190.9" cy="95" r="2.7" fill="url(#gB)"/>
<circle cx="191.8" cy="98.3" r="2.7" fill="url(#gB)"/>
<circle cx="190.6" cy="101.6" r="2.7" fill="url(#gB)"/>
<circle cx="191.3" cy="104.9" r="2.7" fill="url(#gB)"/>
<circle cx="190.9" cy="108.2" r="2.7" fill="url(#gB)"/>
<circle cx="191.7" cy="111.5" r="2.7" fill="url(#gB)"/>
<circle cx="191.3" cy="114.8" r="2.7" fill="url(#gB)"/>
<circle cx="191.6" cy="118.1" r="2.7" fill="url(#gB)"/>
<circle cx="190.7" cy="121.4" r="2.7" fill="url(#gB)"/>
<circle cx="191.5" cy="124.7" r="2.7" fill="url(#gB)"/>
<circle cx="191.4" cy="128" r="2.7" fill="url(#gB)"/>
<circle cx="191.1" cy="131.3" r="2.7" fill="url(#gB)"/>
<circle cx="191.6" cy="134.6" r="2.7" fill="url(#gB)"/>
<circle cx="191.7" cy="137.9" r="2.7" fill="url(#gB)"/>
<circle cx="190.6" cy="141.2" r="2.7" fill="url(#gB)"/>
<circle cx="190.9" cy="147.7" r="2.7" fill="url(#gB)"/>
<circle cx="191" cy="154.2" r="2.7" fill="url(#gB)"/>
<circle cx="190.7" cy="160.7" r="2.7" fill="url(#gB)"/>
<circle cx="190.5" cy="167.2" r="2.7" fill="url(#gB)"/>
<circle cx="190.8" cy="173.7" r="2.7" fill="url(#gB)"/>
<circle cx="190.7" cy="180.2" r="2.7" fill="url(#gB)"/>
<circle cx="191.5" cy="186.7" r="2.7" fill="url(#gB)"/>
<circle cx="191.1" cy="193.2" r="2.7" fill="url(#gB)"/>
<circle cx="190.6" cy="199.7" r="2.7" fill="url(#gB)"/>
<circle cx="190.9" cy="206.2" r="2.7" fill="url(#gB)"/>
<circle cx="191.1" cy="212.7" r="2.7" fill="url(#gB)"/>
<circle cx="191" cy="219.2" r="2.7" fill="url(#gB)"/>
<circle cx="190.7" cy="225.7" r="2.7" fill="url(#gB)"/>
<circle cx="190.5" cy="232.2" r="2.7" fill="url(#gB)"/>
<circle cx="190.4" cy="238.7" r="2.7" fill="url(#gB)"/>
<circle cx="192" cy="245.2" r="2.7" fill="url(#gB)"/>
<circle cx="191.6" cy="251.7" r="2.7" fill="url(#gB)"/>
<circle cx="190.5" cy="258.2" r="2.7" fill="url(#gB)"/>
<circle cx="191.5" cy="264.7" r="2.7" fill="url(#gB)"/>
<circle cx="192" cy="271.2" r="2.7" fill="url(#gB)"/>
<circle cx="191.3" cy="277.7" r="2.7" fill="url(#gB)"/>
<circle cx="190.6" cy="284.2" r="2.7" fill="url(#gB)"/>
<rect x="314.8" y="176" width="6.2" height="114" fill="#2f6fa6"/>
<circle cx="317.8" cy="178" r="2.6" fill="url(#gB)" opacity="0.85"/>
<circle cx="317.7" cy="183.2" r="2.6" fill="url(#gB)" opacity="0.85"/>
<circle cx="317.4" cy="188.4" r="2.6" fill="url(#gB)" opacity="0.85"/>
<circle cx="317.9" cy="193.6" r="2.6" fill="url(#gB)" opacity="0.85"/>
<circle cx="317.2" cy="198.8" r="2.6" fill="url(#gB)" opacity="0.85"/>
<circle cx="318.3" cy="204" r="2.6" fill="url(#gB)" opacity="0.85"/>
<circle cx="318" cy="209.2" r="2.6" fill="url(#gB)" opacity="0.85"/>
<circle cx="318" cy="214.4" r="2.6" fill="url(#gB)" opacity="0.85"/>
<circle cx="318.3" cy="219.6" r="2.6" fill="url(#gB)" opacity="0.85"/>
<circle cx="318" cy="224.8" r="2.6" fill="url(#gB)" opacity="0.85"/>
<circle cx="317.5" cy="230" r="2.6" fill="url(#gB)" opacity="0.85"/>
<circle cx="317.5" cy="235.2" r="2.6" fill="url(#gB)" opacity="0.85"/>
<circle cx="317.4" cy="240.4" r="2.6" fill="url(#gB)" opacity="0.85"/>
<circle cx="317.2" cy="245.6" r="2.6" fill="url(#gB)" opacity="0.85"/>
<circle cx="318.1" cy="250.8" r="2.6" fill="url(#gB)" opacity="0.85"/>
<circle cx="318.2" cy="256" r="2.6" fill="url(#gB)" opacity="0.85"/>
<circle cx="317.6" cy="261.2" r="2.6" fill="url(#gB)" opacity="0.85"/>
<circle cx="317.4" cy="266.4" r="2.6" fill="url(#gB)" opacity="0.85"/>
<circle cx="318" cy="271.6" r="2.6" fill="url(#gB)" opacity="0.85"/>
<circle cx="318.2" cy="276.8" r="2.6" fill="url(#gB)" opacity="0.85"/>
<circle cx="318.3" cy="282" r="2.6" fill="url(#gB)" opacity="0.85"/>
<circle cx="317.4" cy="287.2" r="2.6" fill="url(#gB)" opacity="0.85"/>
<circle cx="317.6" cy="84.2" r="2.9" fill="url(#gB)"/>
<circle cx="317.6" cy="98" r="2.9" fill="url(#gB)"/>
<circle cx="317.6" cy="113.5" r="2.9" fill="url(#gB)"/>
<circle cx="317.6" cy="124" r="2.9" fill="url(#gB)"/>
<circle cx="317.6" cy="132.8" r="2.9" fill="url(#gB)"/>
<circle cx="317.6" cy="149.3" r="2.9" fill="url(#gB)"/>
<circle cx="317.6" cy="157.6" r="2.9" fill="url(#gB)"/>
<circle cx="317.6" cy="169.5" r="2.9" fill="url(#gB)"/>
<path d="M416.6 264.4 L425.1 274.2 L421 274.2 L421 313 L412.2 313 L412.2 274.2 L408.1 274.2 Z" fill="url(#gArrow)"/>
<path d="M322 286.4 323 286.8 324 287 325 286.8 326 286.5 327 287 328 286.8 329 286.8 330 287 331 286.9 332 287.3 333 287 334 286.5 335 286.7 336 286.9 337 287.3 338 287.4 339 287.7 340 288 341 287.8 342 287.6 343 287.1 344 286.9 345 287 346 286.6 347 286.9 348 286.6 349 286.7 350 287.2 351 286.8 352 286.4 353 286.5 354 286.3 355 286.7 356 286.3 357 286.8 358 287.2 359 287.5 360 287.3 361 287 362 287.2 363 287.2 364 287.1 365 286.9 366 286.9 367 287.1 368 287.4 369 287.7 370 287.2 371 287 372 286.9 373 287 374 286.9 375 286.6 376 286.3 377 286.3 378 286.5 379 287.1 380 287.5 381 287.7 382 288 383 288.2 384 288.1 385 288.1 386 287.4 387 287.5 388 287.5 389 287.2 390 287.2 391 287.6 392 287.5 393 287.5 394 287.2 395 287 396 287.4 397 286.8 398 286.6 399 286.9 400 286.9 401 286.5 402 286.8 403 286.7 404 286.9 405 286.9 406 286.9 407 287 408 286.9 409 286.6 410 286.4 411 286.9 412 287 413 286.6 414 287.1 415 286.8 416 286.5 417 286.7 418 286.5 419 286.6 420 286.8 421 286.6 422 286.8 423 286.5 424 286.6 425 286.8 426 286.5 427 286.5 428 286.2 429 286.4 430 286.9 431 287 432 287.2 433 287.4 434 287 435 287.5 436 287.6 437 287.1 438 287.4 439 287.2 440 286.8 441 287.3 442 287.3 443 287.5 444 287.1 L444 300 443 300.4 442 300.5 441 300.4 440 300.6 439 300.6 438 300.7 437 300.5 436 300.3 435 300.6 434 300.6 433 300.3 432 299.9 431 299.6 430 299.8 429 300.3 428 300.5 427 300.8 426 300.9 425 300.8 424 300.8 423 300.9 422 301.7 421 301.5 420 301.2 419 300.8 418 300.4 417 300.3 416 299.9 415 299.7 414 299.6 413 299 412 299 411 299.2 410 298.3 409 298 408 298.3 407 298.2 406 297.9 405 298.2 404 298.2 403 298.2 402 297.9 401 297.8 400 297.7 399 297.8 398 298.3 397 298.1 396 297.5 395 297.7 394 297.7 393 298.2 392 298.1 391 297.6 390 297.7 389 297.2 388 297.5 387 297.4 386 297.5 385 297.3 384 296.8 383 297 382 297.5 381 297.2 380 296.7 379 296.5 378 296.8 377 297 376 297.6 375 297.3 374 297 373 296.8 372 296.7 371 296.2 370 296.4 369 296.5 368 296.1 367 296.2 366 296 365 296.2 364 295.6 363 295.8 362 296.2 361 296.6 360 296.5 359 296.1 358 296 357 296.3 356 296.6 355 296.5 354 296 353 296.4 352 296 351 295.8 350 296.2 349 296.1 348 296.7 347 296.6 346 296.2 345 295.9 344 296 343 296.5 342 296.2 341 296 340 295.7 339 295.9 338 295.7 337 296.2 336 295.9 335 295.5 334 295.5 333 295.1 332 294.9 331 294.4 330 294.3 329 293.8 328 293.8 327 293.3 326 292.4 325 292.1 324 291.4 323 291 322 290.9Z" fill="#484848" stroke="#484848" stroke-width="2.1" stroke-linejoin="round"/>
<circle cx="363.3" cy="287.7" r="1.5" fill="url(#gG)"/>
<circle cx="381" cy="287.2" r="1.5" fill="url(#gG)"/>
<circle cx="350.8" cy="286.8" r="1.5" fill="url(#gG)"/>
<circle cx="322.9" cy="286.4" r="1.8" fill="url(#gG)"/>
<circle cx="376.6" cy="286.1" r="1.6" fill="url(#gG)"/>
<circle cx="342.7" cy="287.4" r="1.3" fill="url(#gG)"/>
<circle cx="359.8" cy="287.5" r="1.7" fill="url(#gG)"/>
<circle cx="436.8" cy="288.1" r="1.5" fill="url(#gG)"/>
<circle cx="393.5" cy="287.2" r="1.3" fill="url(#gG)"/>
<circle cx="393.1" cy="287.4" r="1.9" fill="url(#gG)"/>
<circle cx="416.9" cy="286.9" r="1.5" fill="url(#gG)"/>
<circle cx="330.3" cy="287.5" r="1.6" fill="url(#gG)"/>
<circle cx="355.8" cy="286.2" r="1.4" fill="url(#gG)"/>
<circle cx="342.2" cy="287.8" r="1.4" fill="url(#gG)"/>
<circle cx="348.7" cy="286.3" r="1.5" fill="url(#gG)"/>
<circle cx="395.9" cy="287.2" r="1.8" fill="url(#gG)"/>
<circle cx="346.1" cy="287.1" r="1.7" fill="url(#gG)"/>
<path d="M322 281.8 323 281.3 324 281.7 325 282.1 326 281.8 327 281.3 328 281.1 329 281.2 330 281.7 331 281.8 332 282.2 333 281.7 334 281.5 335 281.8 336 281.9 337 281.7 338 281.8 339 281.6 340 281 341 281 342 280.6 343 281 344 280.9 345 281 346 281.2 347 281 348 281.1 349 280.6 350 281.3 351 281.4 352 282 353 281.4 354 281.5 355 281.8 356 281.6 357 281.1 358 280.9 359 280.7 360 281.2 361 280.9 362 281.5 363 281.5 364 281.6 365 281.8 366 281.9 367 282 368 282.1 369 281.9 370 282.2 371 281.9 372 282.2 373 282.4 374 282.7 375 282.3 376 282.6 377 283 378 282.8 379 282.4 380 282.4 381 282.8 382 282.3 383 281.7 384 281.9 385 282.2 386 282.5 387 282.4 388 282.9 389 282.5 390 282.8 391 282.3 392 281.8 393 281.6 394 281.4 395 281.7 396 282 397 281.8 398 282.5 399 282.4 400 282.1 401 281.9 402 282.3 403 282.9 404 282.4 405 281.9 406 282.4 407 282.1 408 282.8 409 282.7 410 282.8 411 282.5 412 282.8 413 282.7 414 282.4 415 282.9 416 282.3 417 282.6 418 282 419 282.3 420 282.2 421 282.6 422 282 423 282.2 424 282.1 425 282.6 426 283 427 282.9 428 282.4 429 282.1 430 281.8 431 281.7 432 281.4 433 281.1 434 281.5 435 281.6 436 281.3 437 281.8 438 281.3 439 281.3 440 280.8 441 281.2 442 281.5 443 281 444 281.2 L444 288.6 443 288.9 442 288.8 441 288.7 440 289.3 439 288.8 438 288.8 437 289 436 288.6 435 288.3 434 289 433 288.5 432 288.7 431 288.7 430 288.6 429 288.8 428 288.6 427 289.3 426 288.9 425 288.5 424 287.9 423 288.2 422 288.5 421 288.8 420 289 419 288.9 418 289.3 417 288.8 416 288.6 415 289.2 414 288.6 413 289 412 289.2 411 289.4 410 289.7 409 289.2 408 289.4 407 289.8 406 290.1 405 290.1 404 289.9 403 289.4 402 289.2 401 289.2 400 289.1 399 288.8 398 288.4 397 288.8 396 288.8 395 288.5 394 288.4 393 288.1 392 288.4 391 288.8 390 289 389 289.4 388 289.8 387 289.7 386 289.3 385 288.7 384 289 383 289.2 382 288.6 381 288.4 380 288.4 379 288.8 378 288.7 377 288.3 376 288.6 375 288.2 374 288.4 373 288.3 372 288.6 371 288.5 370 289 369 288.4 368 288.5 367 287.7 366 288 365 288.4 364 288.3 363 288.6 362 288.5 361 289.1 360 288.9 359 288.5 358 288.9 357 289.6 356 289.2 355 288.8 354 288.5 353 287.9 352 287.9 351 288.2 350 287.9 349 288.1 348 288.5 347 288.2 346 288.6 345 288 344 288.6 343 287.9 342 288.3 341 288.9 340 289.4 339 288.9 338 288.6 337 289.1 336 288.8 335 288.5 334 288.7 333 288.2 332 288.5 331 288 330 287.9 329 287.9 328 287.7 327 287.3 326 287.7 325 287.1 324 287 323 287.1 322 287.3Z" fill="#1f6dd0" stroke="#1f6dd0" stroke-width="2.4" stroke-linejoin="round"/>
<circle cx="409.2" cy="282.7" r="1.7" fill="url(#gB)"/>
<circle cx="397.1" cy="289" r="1.7" fill="url(#gB)"/>
<circle cx="361.5" cy="281" r="1.9" fill="url(#gB)"/>
<circle cx="349.3" cy="288.2" r="1.9" fill="url(#gB)"/>
<circle cx="354.5" cy="281.5" r="2.1" fill="url(#gB)"/>
<circle cx="410.4" cy="289.7" r="2.1" fill="url(#gB)"/>
<circle cx="380.4" cy="281.9" r="1.6" fill="url(#gB)"/>
<circle cx="435.6" cy="288.3" r="1.6" fill="url(#gB)"/>
<circle cx="386.2" cy="282.9" r="1.8" fill="url(#gB)"/>
<circle cx="351.2" cy="287.8" r="1.8" fill="url(#gB)"/>
<circle cx="422.7" cy="282.2" r="1.8" fill="url(#gB)"/>
<circle cx="423.4" cy="288.7" r="1.8" fill="url(#gB)"/>
<circle cx="428.3" cy="282.3" r="1.5" fill="url(#gB)"/>
<circle cx="423.9" cy="288.6" r="1.5" fill="url(#gB)"/>
<circle cx="337.1" cy="281.4" r="1.5" fill="url(#gB)"/>
<circle cx="334.6" cy="288.5" r="1.5" fill="url(#gB)"/>
<circle cx="420.4" cy="282.1" r="1.8" fill="url(#gB)"/>
<circle cx="332.8" cy="288.4" r="1.8" fill="url(#gB)"/>
<circle cx="444.1" cy="281.1" r="1.9" fill="url(#gB)"/>
<circle cx="380.6" cy="288.8" r="1.9" fill="url(#gB)"/>
<circle cx="415" cy="282.7" r="1.5" fill="url(#gB)"/>
<circle cx="366.9" cy="288.1" r="1.5" fill="url(#gB)"/>
<circle cx="351.1" cy="281.2" r="1.7" fill="url(#gB)"/>
<circle cx="368.7" cy="287.9" r="1.7" fill="url(#gB)"/>
<circle cx="346.6" cy="280.7" r="1.8" fill="url(#gB)"/>
<circle cx="343.9" cy="288.2" r="1.8" fill="url(#gB)"/>
<circle cx="355.6" cy="281.5" r="1.7" fill="url(#gB)"/>
<circle cx="424.2" cy="287.4" r="1.7" fill="url(#gB)"/>
<circle cx="399.9" cy="282.1" r="2" fill="url(#gB)"/>
<circle cx="373.8" cy="288.7" r="2" fill="url(#gB)"/>
<circle cx="397.7" cy="281.2" r="1.7" fill="url(#gB)"/>
<circle cx="376.2" cy="288.4" r="1.7" fill="url(#gB)"/>
<circle cx="409.3" cy="282.6" r="1.6" fill="url(#gB)"/>
<circle cx="401.4" cy="289.6" r="1.6" fill="url(#gB)"/>
<circle cx="365.2" cy="281.9" r="1.7" fill="url(#gB)"/>
<circle cx="435.3" cy="287.9" r="1.7" fill="url(#gB)"/>
<circle cx="441" cy="280.7" r="1.9" fill="url(#gB)"/>
<circle cx="403.5" cy="289.2" r="1.9" fill="url(#gB)"/>
<circle cx="330.7" cy="281.6" r="2" fill="url(#gB)"/>
<circle cx="386.4" cy="289.3" r="2" fill="url(#gB)"/>
<circle cx="432.4" cy="280.8" r="2" fill="url(#gB)"/>
<circle cx="394.6" cy="288.4" r="2" fill="url(#gB)"/>
<circle cx="378.6" cy="282.7" r="2" fill="url(#gB)"/>
<circle cx="380" cy="288.9" r="2" fill="url(#gB)"/>
<circle cx="375.9" cy="282.3" r="1.8" fill="url(#gB)"/>
<circle cx="423" cy="288.4" r="1.8" fill="url(#gB)"/>
<circle cx="412.7" cy="282.3" r="1.7" fill="url(#gB)"/>
<circle cx="405.3" cy="290.2" r="1.7" fill="url(#gB)"/>
<circle cx="416.2" cy="281.8" r="2" fill="url(#gB)"/>
<circle cx="349" cy="287.6" r="2" fill="url(#gB)"/>
<circle cx="422.1" cy="281.5" r="1.5" fill="url(#gB)"/>
<circle cx="414.3" cy="288.7" r="1.5" fill="url(#gB)"/>
<circle cx="328.7" cy="281.3" r="1.9" fill="url(#gB)"/>
<circle cx="381.1" cy="287.9" r="1.9" fill="url(#gB)"/>
<circle cx="406.6" cy="282.5" r="1.7" fill="url(#gB)"/>
<circle cx="444.3" cy="289" r="1.7" fill="url(#gB)"/>
<circle cx="428.8" cy="282.2" r="1.5" fill="url(#gB)"/>
<circle cx="385.5" cy="288.1" r="1.5" fill="url(#gB)"/>
<circle cx="443.1" cy="280.7" r="1.6" fill="url(#gB)"/>
<circle cx="360.3" cy="288.6" r="1.6" fill="url(#gB)"/>
<circle cx="427.2" cy="283" r="1.8" fill="url(#gB)"/>
<circle cx="373.5" cy="287.7" r="1.8" fill="url(#gB)"/>
<circle cx="359.3" cy="281.1" r="2" fill="url(#gB)"/>
<circle cx="426.9" cy="288.5" r="2" fill="url(#gB)"/>
<circle cx="346.7" cy="281.3" r="1.5" fill="url(#gB)"/>
<circle cx="367.8" cy="287.7" r="1.5" fill="url(#gB)"/>
<circle cx="381.9" cy="282.7" r="1.8" fill="url(#gB)"/>
<circle cx="420.2" cy="288.6" r="1.8" fill="url(#gB)"/>
<circle cx="434.6" cy="281" r="1.8" fill="url(#gB)"/>
<circle cx="360.5" cy="288.9" r="1.8" fill="url(#gB)"/>
<circle cx="372.1" cy="281.9" r="1.8" fill="url(#gB)"/>
<circle cx="355.5" cy="289.2" r="1.8" fill="url(#gB)"/>
<circle cx="357.7" cy="281.5" r="1.9" fill="url(#gB)"/>
<circle cx="394.5" cy="288.3" r="1.9" fill="url(#gB)"/>
<path d="M369 291.4 L400 292 L440 291.2" fill="none" stroke="#fff" stroke-width="0.9" opacity="0.85"/>
<rect x="412.4" y="290.5" width="8.4" height="22.5" fill="#dcedf9" opacity="0.55"/>
<line x1="321" y1="297" x2="458.5" y2="297" stroke="#c9c9c9" stroke-width="1.8" stroke-dasharray="6 3"/>
<line x1="188.7" y1="30" x2="188.7" y2="316" stroke="#ecc95c" stroke-width="1.6" stroke-dasharray="5 2.5" opacity="0.85"/>
<line x1="318.2" y1="64" x2="318.2" y2="316" stroke="#ecc95c" stroke-width="1.6" stroke-dasharray="5 2.5" opacity="0.85"/>
</g>
<g id="series-b">
<path d="M537.5 178.3 538.5 184.9 539.5 188.4 540.5 191.3 541.5 192.9 542.5 194 543.5 194.7 544.5 195.9 545.5 196.5 546.5 197.5 547.5 198 548.5 199 549.5 199.7 550.5 200.5 551.5 201.1 552.5 201.5 553.5 202 554.5 202.2 555.5 202.4 556.5 203 557.5 203.2 558.5 203.9 559.5 204.1 560.5 204.3 561.5 204.5 562.5 205.2 563.5 205.9 564.5 206.2 565.5 206.8 566.5 207 567.5 207.7 568.5 208.3 569.5 208.6 570.5 208.9 571.5 209.7 572.5 210 573.5 211 574.5 211.6 575.5 212.2 576.5 213.1 577.5 213.8 578.5 214.6 579.5 215.3 580.5 216.4 581.5 217.1 582.5 218.2 583.5 218.8 584.5 219.5 585.5 220.1 586.5 220.3 587.5 220.3 588.5 220.6 589.5 220.9 590.5 220.9 591.5 221 592.5 220.9 593.5 221.1 594.5 221.4 595.5 221.3 596.5 221.4 597.5 221.2 598.5 221.4 599.5 221.2 600.5 221.4 601.5 221.7 602.5 221.8 603.5 221.7 604.5 221.5 605.5 221.3 606.5 221.4 607.5 221.4 608.5 221.6 609.5 221.2 610.5 221.2 611.5 221.4 612.5 221.4 613.5 221.3 614.5 221.1 615.5 220.9 616.5 220.8 617.5 221.1 618.5 221.3 619.5 221.2 620.5 221.4 621.5 221.1 622.5 221.2 623.5 221.5 624.5 221.3 625.5 221.6 626.5 221.6 627.5 221.3 628.5 221.2 629.5 221.2 630.5 221.1 631.5 221.3 632.5 221.2 633.5 221.4 634.5 221.3 635.5 221.1 636.5 221.2 637.5 221 638.5 221.3 639.5 221.6 640.5 221.8 641.5 221.9 642.5 221.7 643.5 221.9 644.5 221.9 645.5 222.1 646.5 222.1 647.5 222.4 648.5 222.4 649.5 222.6 650.5 222.8 651.5 222.8 652.5 222.8 653.5 223.2 654.5 223.3 655.5 223.6 656.5 223.9 657.5 224 658.5 223.8 659.5 223.7 660.5 224.1 661.5 224 662.5 224.1 663.5 224.3 664.5 224.2 665.5 224.3 666.5 224.3 667.5 224.5 668.5 224.7 669.5 224.8 670.5 224.8 671.5 224.9 672.5 224.9 673.5 224.9 674.5 225 675.5 225.4 676.5 225.5 677.5 225.9 678.5 225.7 679.5 226.1 680.5 226.2 681.5 226.4 682.5 226.5 683.5 226.7 684.5 226.6 685.5 226.9 686.5 226.8 687.5 226.8 688.5 226.7 689.5 226.9 690.5 227.1 691.5 227.2 692.5 227.6 693.5 227.5 694.5 227.8 695.5 227.8 696.5 228 697.5 228.3 698.5 228.6 699.5 228.4 700.5 228.4 701.5 228.7 702.5 229.1 703.5 228.9 704.5 229.1 705.5 229.3 706.5 229.6 707.5 229.5 708.5 229.8 709.5 229.8 710.5 230.1 711.5 229.9 712.5 230.2 713.5 230.2 714.5 230.2 715.5 230.1 716.5 230.1 717.5 230.4 718.5 230.6 719.5 230.5 720.5 230.6 721.5 230.5 722.5 230.5 723.5 230.6 724.5 230.7 725.5 231.2 726.5 231.5 727.5 231.7 728.5 231.7 729.5 231.7 730.5 231.9 731.5 232.2 732.5 232.3 733.5 232.3 734.5 232.1 735.5 232.2 736.5 232.4 737.5 232.6 738.5 232.3 739.5 232.5 740.5 232.5 741.5 232.3 742.5 232.7 743.5 232.9 744.5 233 745.5 232.8 746.5 233 747.5 233.3 748.5 233.5 749.5 233.5 750.5 233.6 751.5 233.7 752.5 233.6 753.5 233.5 754.5 233.7 755.5 233.8 756.5 233.9 757.5 233.7 758.5 233.9 759.5 233.9 760.5 234.1 761.5 233.8 762.5 234.1 763.5 234.2 764.5 234 765.5 234.1 766.5 234 767.5 233.8 768.5 233.9 769.5 233.8 770.5 233.9 771.5 234.2 772.5 234.3 773.5 234.4 774.5 234.3 775.5 234.4 776.5 234.6 777.5 234.6 778.5 234.8 779.5 234.9 780.5 234.7 781.5 234.4 782.5 234.5 783.5 234.7 784.5 234.6 785.5 234.6 786.5 234.8 787.5 234.9 788.5 234.6 789.5 234.6 790.5 234.3 791.5 234.2 792.5 234.5 793.5 234.5 794.5 234.7 795.5 234.7 796.5 234.6 797.5 234.5 798.5 234.5 799.5 234.8 800.5 234.9 801.5 234.8 802.5 234.6 803.5 234.1 804.5 233.8 805.5 233.3 806.5 233 807.5 232.6 808.5 231.9 809.5 232.5 810.5 233.7 811.5 235.5 812.5 237.1 813.5 239 814.5 241.3 815.5 242.8 816.5 243.7 817.5 245.1 818.5 245.4 819.5 245.1 820.5 244.5 821.5 243.8 822.5 243.2 823.5 242.3 824.5 241.6 825.5 240.4 826.5 239.6 827.5 238.3 828.5 237.3 829.5 236 830.5 234.9 831.5 236 832.5 236.7 833.5 237.6 834.5 238.2 835.5 238.9 836.5 239.4 837.5 238.7 838.5 238.1 839.5 237.2 840.5 236.4 841.5 236.2 842.5 235.9 843.5 235.4 844.5 234.5 845.5 234.1 846.5 233.5 847.5 233.3 848.5 232.8 849.5 232.6 850.5 232.5 851.5 232.1 852.5 231.9 853.5 231.8 854.5 231.8 855.5 231.5 856.5 231.1 857.5 231.2 858.5 230.8 859.5 231 860.5 231 861.5 231 862.5 231 863.5 231.1 864.5 231.3 865.5 231.3 866.5 231.4 867.5 231 868.5 230.9 869.5 230.8 870.5 231.1 871.5 231.7 872.5 231.8 873.5 232.2 874.5 232.6 875.5 232.8 876.5 233.3 877.5 234.1 878.5 234.9 879.5 235.4 880.5 236.2 881.5 236.8 882.5 237.3 883.5 237.7 884.5 238.4 885.5 238.9 886.5 239.4 887.5 239.2 888.5 238.7 889.5 238.6 890.5 238.3 891.5 238 892.5 237.4 893.5 236.7 894.5 236.4 895.5 236.2 896.5 236 897.5 235.5 898.5 234.9 899.5 234.6 900.5 234.5 901.5 233.9 902.5 233.8 903.5 233.4 904.5 233.1 905.5 233.1 906.5 233.7 907.5 234.4 908.5 235.4 909.5 236.1 910.5 236.3 911.5 236.5 912.5 237.1 913.5 237 914.5 236.9 915.5 236.8 916.5 236.5 917.5 236.4 L917.5 243.3 916.5 243.6 915.5 243.4 914.5 243.2 913.5 243.4 912.5 243.5 911.5 243.3 910.5 243.1 909.5 243.1 908.5 242.6 907.5 241.8 906.5 241 905.5 240.3 904.5 239.9 903.5 240.1 902.5 240 901.5 240.2 900.5 240.6 899.5 241.1 898.5 241.5 897.5 241.9 896.5 242.5 895.5 242.8 894.5 243.3 893.5 243.4 892.5 244.1 891.5 244.3 890.5 244.8 889.5 245 888.5 245.2 887.5 246 886.5 246.2 885.5 245.7 884.5 245.2 883.5 244.7 882.5 244.2 881.5 243.4 880.5 242.7 879.5 241.9 878.5 241.3 877.5 240.6 876.5 239.9 875.5 239.3 874.5 238.7 873.5 238.4 872.5 238.3 871.5 238.3 870.5 237.8 869.5 237.5 868.5 237.3 867.5 237.5 866.5 237.3 865.5 237.4 864.5 237.4 863.5 237.7 862.5 237.5 861.5 237.3 860.5 237.1 859.5 237.2 858.5 237.3 857.5 237.4 856.5 237.2 855.5 237.6 854.5 237.8 853.5 238.1 852.5 238.2 851.5 238.6 850.5 238.8 849.5 238.8 848.5 238.8 847.5 239.3 846.5 239.6 845.5 240.3 844.5 240.8 843.5 241.4 842.5 241.8 841.5 242.5 840.5 243.4 839.5 243.9 838.5 244.8 837.5 245.7 836.5 246.6 835.5 245.7 834.5 245 833.5 244 832.5 243.6 831.5 242.7 830.5 241.7 829.5 242.5 828.5 243.7 827.5 244.7 826.5 245.9 825.5 246.7 824.5 247.8 823.5 248.6 822.5 249.1 821.5 250.2 820.5 250.6 819.5 251.3 818.5 252 817.5 251.9 816.5 250.7 815.5 249.5 814.5 247.7 813.5 245.6 812.5 243.7 811.5 241.6 810.5 240.2 809.5 238.9 808.5 238.8 807.5 239.1 806.5 239.3 805.5 240 804.5 240.8 803.5 241.3 802.5 241.7 801.5 241.5 800.5 241.3 799.5 241.3 798.5 241.4 797.5 241.1 796.5 241.2 795.5 241.4 794.5 241.4 793.5 241.1 792.5 241.3 791.5 241.3 790.5 241.1 789.5 241 788.5 241.1 787.5 241 786.5 240.8 785.5 240.8 784.5 240.7 783.5 240.9 782.5 240.7 781.5 240.9 780.5 240.9 779.5 240.8 778.5 240.6 777.5 240.5 776.5 240.4 775.5 240.4 774.5 240.6 773.5 240.4 772.5 240.6 771.5 240.7 770.5 240.4 769.5 240.5 768.5 240.6 767.5 240.5 766.5 240.5 765.5 240.2 764.5 240 763.5 240 762.5 240.2 761.5 240.2 760.5 239.8 759.5 240.1 758.5 240 757.5 239.8 756.5 239.5 755.5 239.6 754.5 239.6 753.5 239.4 752.5 239.5 751.5 239.8 750.5 240 749.5 239.9 748.5 239.7 747.5 239.8 746.5 239.7 745.5 239.8 744.5 239.5 743.5 239.2 742.5 239 741.5 238.6 740.5 238.7 739.5 238.7 738.5 238.8 737.5 238.7 736.5 238.5 735.5 238.7 734.5 238.9 733.5 238.7 732.5 238.8 731.5 238.6 730.5 238.3 729.5 237.9 728.5 237.8 727.5 237.5 726.5 237.5 725.5 237.6 724.5 237.8 723.5 237.8 722.5 237.5 721.5 237.1 720.5 237 719.5 237 718.5 237.1 717.5 237.2 716.5 236.8 715.5 236.5 714.5 236.6 713.5 236.6 712.5 236.7 711.5 236.5 710.5 236.3 709.5 235.9 708.5 236.1 707.5 236.2 706.5 236.4 705.5 236.4 704.5 236.3 703.5 236.1 702.5 235.8 701.5 235.6 700.5 235.2 699.5 234.9 698.5 234.7 697.5 234.6 696.5 234.6 695.5 234.3 694.5 234.3 693.5 234.2 692.5 234 691.5 233.7 690.5 233.6 689.5 233.6 688.5 233.5 687.5 233.5 686.5 233.5 685.5 233.4 684.5 233.1 683.5 232.9 682.5 232.7 681.5 232.8 680.5 232.8 679.5 233.1 678.5 232.8 677.5 232.9 676.5 232.7 675.5 232.5 674.5 232.1 673.5 231.8 672.5 231.9 671.5 231.7 670.5 231.6 669.5 231.5 668.5 231.4 667.5 231.1 666.5 230.9 665.5 231 664.5 230.9 663.5 230.7 662.5 230.9 661.5 230.6 660.5 230.8 659.5 230.7 658.5 230.5 657.5 230.1 656.5 230.1 655.5 229.8 654.5 229.8 653.5 229.6 652.5 229.5 651.5 229.4 650.5 229.1 649.5 229.1 648.5 229.2 647.5 228.8 646.5 229 645.5 228.6 644.5 228.3 643.5 228.1 642.5 228.2 641.5 228.1 640.5 228.1 639.5 227.9 638.5 228 637.5 228.1 636.5 227.9 635.5 228.1 634.5 228 633.5 228.1 632.5 228 631.5 227.6 630.5 227.4 629.5 227.6 628.5 227.7 627.5 227.8 626.5 227.9 625.5 227.7 624.5 227.6 623.5 227.9 622.5 228.1 621.5 228.1 620.5 228 619.5 228 618.5 228.3 617.5 228.2 616.5 228.2 615.5 228.2 614.5 228.2 613.5 228.1 612.5 227.9 611.5 228 610.5 227.9 609.5 227.9 608.5 228.2 607.5 228.1 606.5 227.9 605.5 227.8 604.5 227.9 603.5 227.9 602.5 228 601.5 228 600.5 227.9 599.5 227.7 598.5 227.7 597.5 227.7 596.5 227.9 595.5 228 594.5 228.3 593.5 228 592.5 227.9 591.5 227.8 590.5 227.7 589.5 227.4 588.5 227.4 587.5 227.2 586.5 226.8 585.5 226.5 584.5 226.4 583.5 225.8 582.5 224.8 581.5 224.1 580.5 223.2 579.5 222.3 578.5 221.5 577.5 220.5 576.5 219.6 575.5 219 574.5 218.5 573.5 217.6 572.5 217 571.5 216.3 570.5 215.5 569.5 214.8 568.5 214.4 567.5 214.1 566.5 213.8 565.5 213.1 564.5 212.8 563.5 212.3 562.5 211.7 561.5 211.6 560.5 211 559.5 210.7 558.5 210.3 557.5 210 556.5 209.7 555.5 209 554.5 208.7 553.5 208.5 552.5 208 551.5 207.5 550.5 206.8 549.5 206.2 548.5 205.4 547.5 204.9 546.5 204.4 545.5 203.5 544.5 202.6 543.5 201.5 542.5 200.6 541.5 199.4 540.5 197.9 539.5 194.8 538.5 191.2 537.5 184.5Z" fill="#484848" stroke="#484848" stroke-width="2.7" stroke-linejoin="round"/>
<circle cx="830.3" cy="236.4" r="2.2" fill="url(#gG)"/>
<circle cx="839.4" cy="237.9" r="2" fill="url(#gG)"/>
<circle cx="851.2" cy="232.6" r="1.9" fill="url(#gG)"/>
<circle cx="677" cy="226" r="2" fill="url(#gG)"/>
<circle cx="598.7" cy="221.6" r="2" fill="url(#gG)"/>
<circle cx="742.1" cy="232.4" r="2.3" fill="url(#gG)"/>
<circle cx="884.7" cy="238.9" r="2.1" fill="url(#gG)"/>
<circle cx="571.6" cy="209.7" r="1.8" fill="url(#gG)"/>
<circle cx="882" cy="236.7" r="1.6" fill="url(#gG)"/>
<circle cx="809.5" cy="232.4" r="2.4" fill="url(#gG)"/>
<circle cx="703.9" cy="229.2" r="2.1" fill="url(#gG)"/>
<circle cx="821" cy="244.5" r="2.2" fill="url(#gG)"/>
<circle cx="635.2" cy="221.5" r="1.6" fill="url(#gG)"/>
<circle cx="617" cy="221.2" r="1.8" fill="url(#gG)"/>
<circle cx="782" cy="234.6" r="2.1" fill="url(#gG)"/>
<circle cx="764.7" cy="233.9" r="2.1" fill="url(#gG)"/>
<circle cx="561.8" cy="204.3" r="1.7" fill="url(#gG)"/>
<circle cx="674.9" cy="224.8" r="1.7" fill="url(#gG)"/>
<circle cx="725.1" cy="230.9" r="2.4" fill="url(#gG)"/>
<circle cx="641.4" cy="221.7" r="2.2" fill="url(#gG)"/>
<circle cx="575.5" cy="212.3" r="1.8" fill="url(#gG)"/>
<circle cx="799.5" cy="235.1" r="2" fill="url(#gG)"/>
<circle cx="573.5" cy="211" r="2.3" fill="url(#gG)"/>
<circle cx="853.8" cy="232.1" r="1.6" fill="url(#gG)"/>
<circle cx="623.5" cy="221.5" r="2.3" fill="url(#gG)"/>
<circle cx="792.4" cy="234" r="1.8" fill="url(#gG)"/>
<circle cx="609.7" cy="221.1" r="2.3" fill="url(#gG)"/>
<circle cx="788" cy="235.1" r="2.1" fill="url(#gG)"/>
<circle cx="606.1" cy="221.2" r="1.7" fill="url(#gG)"/>
<circle cx="910.9" cy="236.5" r="1.9" fill="url(#gG)"/>
<circle cx="754" cy="233.4" r="1.8" fill="url(#gG)"/>
<circle cx="543.1" cy="193.9" r="2.3" fill="url(#gG)"/>
<circle cx="903.5" cy="234.1" r="1.9" fill="url(#gG)"/>
<circle cx="590.1" cy="220.9" r="2.2" fill="url(#gG)"/>
<circle cx="676.7" cy="225.4" r="2" fill="url(#gG)"/>
<circle cx="631.9" cy="221.3" r="2.2" fill="url(#gG)"/>
<circle cx="682.2" cy="226.3" r="2.2" fill="url(#gG)"/>
<circle cx="611.2" cy="221.3" r="1.8" fill="url(#gG)"/>
<circle cx="676.3" cy="225.5" r="2.1" fill="url(#gG)"/>
<circle cx="868" cy="231.3" r="1.7" fill="url(#gG)"/>
<circle cx="855.3" cy="231.6" r="1.8" fill="url(#gG)"/>
<circle cx="704.1" cy="229" r="1.7" fill="url(#gG)"/>
<circle cx="807.9" cy="232.5" r="1.7" fill="url(#gG)"/>
<circle cx="719.7" cy="230.4" r="1.7" fill="url(#gG)"/>
<circle cx="704.8" cy="229" r="1.7" fill="url(#gG)"/>
<circle cx="674.7" cy="225.3" r="2" fill="url(#gG)"/>
<circle cx="748.3" cy="233.2" r="1.7" fill="url(#gG)"/>
<circle cx="820.3" cy="245.5" r="2" fill="url(#gG)"/>
<circle cx="903.2" cy="233.7" r="2.3" fill="url(#gG)"/>
<circle cx="896.1" cy="236.2" r="2" fill="url(#gG)"/>
<circle cx="602.3" cy="221.6" r="2.3" fill="url(#gG)"/>
<circle cx="569.1" cy="208.7" r="1.8" fill="url(#gG)"/>
<circle cx="712.7" cy="230" r="2.2" fill="url(#gG)"/>
<circle cx="709.6" cy="229.7" r="1.9" fill="url(#gG)"/>
<circle cx="789.4" cy="234.4" r="1.9" fill="url(#gG)"/>
<circle cx="911.5" cy="236.2" r="2" fill="url(#gG)"/>
<circle cx="541.6" cy="193.1" r="2.1" fill="url(#gG)"/>
<circle cx="546.8" cy="197.7" r="2" fill="url(#gG)"/>
<circle cx="741.6" cy="232.5" r="1.8" fill="url(#gG)"/>
<circle cx="767.4" cy="233.8" r="2.1" fill="url(#gG)"/>
<circle cx="842.9" cy="236.1" r="2.3" fill="url(#gG)"/>
<circle cx="863.3" cy="231.3" r="1.9" fill="url(#gG)"/>
<circle cx="606.6" cy="221.6" r="1.8" fill="url(#gG)"/>
<circle cx="880.1" cy="235.3" r="1.7" fill="url(#gG)"/>
<circle cx="551.1" cy="200.4" r="1.9" fill="url(#gG)"/>
<circle cx="610.3" cy="221.4" r="2.2" fill="url(#gG)"/>
<circle cx="894.5" cy="237" r="1.9" fill="url(#gG)"/>
<circle cx="542.3" cy="192.9" r="2.3" fill="url(#gG)"/>
<circle cx="718.8" cy="231" r="2" fill="url(#gG)"/>
<circle cx="724.5" cy="230.8" r="2.4" fill="url(#gG)"/>
<circle cx="619.7" cy="221.1" r="2.2" fill="url(#gG)"/>
<circle cx="917.3" cy="236.4" r="2" fill="url(#gG)"/>
<circle cx="902.8" cy="233.9" r="1.9" fill="url(#gG)"/>
<circle cx="667.9" cy="224.3" r="2.1" fill="url(#gG)"/>
<circle cx="679.6" cy="226.4" r="1.7" fill="url(#gG)"/>
<circle cx="537.6" cy="178.3" r="2.1" fill="url(#gG)"/>
<circle cx="710.1" cy="230.1" r="2" fill="url(#gG)"/>
<circle cx="589.8" cy="220.8" r="1.8" fill="url(#gG)"/>
<circle cx="902.4" cy="233.8" r="1.7" fill="url(#gG)"/>
<circle cx="735.9" cy="232.6" r="2.1" fill="url(#gG)"/>
<circle cx="559.1" cy="203.8" r="1.8" fill="url(#gG)"/>
<circle cx="760" cy="233.9" r="2" fill="url(#gG)"/>
<circle cx="875.1" cy="233" r="2.1" fill="url(#gG)"/>
<circle cx="901.1" cy="234.9" r="1.8" fill="url(#gG)"/>
<circle cx="832.4" cy="221.5" r="3" fill="url(#gG)"/>
<circle cx="832.4" cy="225" r="3" fill="url(#gG)"/>
<circle cx="832.4" cy="228.5" r="3" fill="url(#gG)"/>
<circle cx="832.4" cy="232" r="3" fill="url(#gG)"/>
<circle cx="832.4" cy="235.5" r="3" fill="url(#gG)"/>
<circle cx="905.4" cy="211.5" r="3" fill="url(#gG)"/>
<circle cx="905.4" cy="215" r="3" fill="url(#gG)"/>
<circle cx="905.4" cy="218.5" r="3" fill="url(#gG)"/>
<circle cx="905.4" cy="222.5" r="3" fill="url(#gG)"/>
<circle cx="905.4" cy="226.5" r="3" fill="url(#gG)"/>
<circle cx="905.4" cy="230.5" r="3" fill="url(#gG)"/>
<circle cx="809.3" cy="232.2" r="3" fill="url(#gG)"/>
<circle cx="555.9" cy="200.8" r="3" fill="url(#gG)"/>
<circle cx="566.6" cy="206.5" r="3" fill="url(#gG)"/>
<circle cx="576.3" cy="212.8" r="3" fill="url(#gG)"/>
<circle cx="549" cy="199.2" r="3" fill="url(#gG)"/>
<path d="M539 174.2 540 178.1 541 182 542 181.9 543 181.8 544 182 545 182.2 546 182.8 547 183.3 548 183.4 549 183.6 550 184 551 184.3 552 184.5 553 184.5 554 184.2 555 184.2 556 184.4 557 184.6 558 184.9 559 185.2 560 185.5 561 185.3 562 185 563 185.4 564 185.5 565 185.3 566 185.6 567 185.5 568 185.4 569 185.5 570 185.7 571 186 572 185.8 573 186.1 574 186.3 575 186.4 576 186.6 577 186.9 578 186.6 579 186.7 580 187 581 187.2 582 187.4 583 187.2 584 187.6 585 187.8 586 187.6 587 187.7 588 188.1 589 187.9 590 187.9 591 188.3 592 188.6 593 188.4 594 188.7 595 188.6 596 188.7 597 188.9 598 188.6 599 188.5 600 188.4 601 188.4 602 188.2 603 188.2 604 188.4 605 188.6 606 188.5 607 188.8 608 189.2 609 189.4 610 189.3 611 189.6 612 189.6 613 189.4 614 189.5 615 189.3 616 189.6 617 189.4 618 189.5 619 190 620 190.2 621 190.4 622 190.4 623 190.5 624 190.6 625 190.8 626 190.5 627 190.7 628 190.5 629 190.3 630 190.6 631 190.6 632 190.9 633 191.1 634 191 635 190.7 636 190.4 637 190.5 638 190.8 639 190.6 640 190.4 641 190.2 642 190.2 643 190.5 644 190.3 645 190.3 646 190.4 647 190.7 648 191.2 649 190.9 650 190.7 651 191.2 652 191.6 653 191.3 654 191.3 655 191.3 656 191.3 657 191.3 658 191.4 659 191.3 660 191.1 661 190.9 662 190.9 663 190.8 664 191.1 665 191.4 666 191.3 667 191.6 668 191.8 669 191.7 670 191.7 671 191.5 672 191.8 673 191.9 674 191.5 675 191.3 676 191.6 677 191.6 678 191.8 679 191.6 680 191.9 681 192.1 682 191.7 683 191.8 684 191.6 685 191.8 686 192 687 192.2 688 191.9 689 191.7 690 191.8 691 191.9 692 191.7 693 191.5 694 191.7 695 191.5 696 191.7 697 191.6 698 191.5 699 191.6 700 191.7 701 191.9 702 191.6 703 191.9 704 191.7 705 191.6 706 191.8 707 192 708 192 709 192.3 710 192 711 191.8 712 192 713 191.8 714 191.6 715 191.4 716 191.7 717 192 718 192.1 719 192.3 720 192.4 721 192.1 722 191.9 723 192 724 191.7 725 191.8 726 191.6 727 191.4 728 191.5 729 191.4 730 191.9 731 192.2 732 192.2 733 192 734 191.8 735 191.9 736 192 737 192 738 192.2 739 192.3 740 192.5 741 192.2 742 192 743 192.1 744 192.2 745 192.1 746 192.4 747 192.2 748 192.2 749 192.3 750 192.6 751 192.8 752 192.7 753 192.7 754 193.1 755 193.3 756 193.3 757 193 758 193 759 193.1 760 192.9 761 192.7 762 193.1 763 193.5 764 193.2 765 193.2 766 193.3 767 193.2 768 193 769 193.3 770 193.5 771 193.5 772 193.2 773 193.3 774 193.1 775 193.6 776 193.3 777 193.3 778 193.6 779 193.5 780 193.3 781 193.2 782 193.2 783 193.4 784 193.8 785 193.7 786 193.6 787 194 788 194 789 194 790 193.8 791 193.8 792 194.3 793 194.1 794 194 795 194.3 796 194.6 797 194.8 798 194.7 799 194.9 800 194.9 801 194.6 802 194.5 803 194.7 804 194.8 805 194.4 806 194.2 807 194.6 808 194.2 809 194.5 810 194.4 811 194.2 812 194.1 813 194.1 814 194.5 815 194.3 816 194.5 817 194.4 818 194.2 819 194.4 820 194.3 821 194.1 822 194.1 823 194.4 824 194.7 825 194.6 826 194.2 827 194.5 828 194.5 829 194.8 830 195 831 194.7 832 194.9 833 195 834 194.7 835 194.5 836 194.4 837 194.3 838 194.2 839 194 840 193.9 841 194.3 842 194.3 843 194.4 844 194.7 845 194.8 846 194.5 847 194.8 848 194.9 849 195.1 850 195.1 851 195.1 852 195.1 853 194.8 854 194.8 855 194.6 856 194.8 857 194.4 858 194.4 859 194.3 860 194.5 861 194.3 862 194.5 863 194.6 864 194.7 865 194.3 866 194.5 867 194.5 868 194.4 869 194.4 870 193.9 871 194.1 872 194 873 193.9 874 193.7 875 193.8 876 193.9 877 194.1 878 193.7 879 193.5 880 193.2 881 193 882 192.9 883 192.6 884 192.9 885 192.8 886 192.5 887 192.3 888 192.6 889 192.4 890 192.5 891 192.5 892 192.7 893 193 894 192.8 895 192.8 896 193 897 192.8 898 193 899 193 900 192.7 901 192.8 902 192.7 903 192.3 904 192.3 905 192.4 906 192.3 907 192.2 908 192.1 909 192.3 910 192.2 911 191.9 912 191.7 913 191.6 914 191.9 915 191.9 916 191.5 917 191.7 L917 198.9 916 199.1 915 199.4 914 199.4 913 199.4 912 199.3 911 199.1 910 199.5 909 199.7 908 199.6 907 199.8 906 199.9 905 199.8 904 199.6 903 199.7 902 199.4 901 199.7 900 199.4 899 199.7 898 199.5 897 199.5 896 199.1 895 199.2 894 199.3 893 199.2 892 199.4 891 199.7 890 199.4 889 199.7 888 200 887 199.8 886 199.9 885 199.8 884 199.6 883 199.6 882 199.6 881 200 880 199.7 879 199.4 878 199.6 877 199.6 876 200 875 199.7 874 199.9 873 200 872 199.9 871 200.2 870 200.1 869 200.1 868 199.8 867 200.1 866 200 865 200.3 864 200.1 863 200.5 862 200.7 861 200.5 860 200.7 859 200.6 858 200.7 857 200.7 856 200.6 855 200.6 854 200.9 853 200.6 852 200.3 851 200 850 200 849 200.2 848 200 847 200.3 846 200.1 845 200 844 200.4 843 200.3 842 200.1 841 200.3 840 200.1 839 200.1 838 199.8 837 200 836 200.1 835 200.4 834 200.3 833 200.7 832 200.4 831 200.6 830 200.6 829 200.4 828 200.4 827 200.2 826 200.6 825 200.4 824 200.1 823 200.5 822 200.1 821 200.3 820 200.4 819 200.1 818 200.4 817 200.4 816 200.7 815 200.6 814 200.9 813 201 812 200.8 811 200.7 810 200.6 809 200.5 808 200.2 807 200.4 806 200.6 805 200.9 804 201 803 200.8 802 200.6 801 200.3 800 200.4 799 200.3 798 200.3 797 200.2 796 200.2 795 200 794 200.3 793 200.4 792 200.1 791 199.8 790 200.2 789 200 788 200 787 200.3 786 200.7 785 200.8 784 200.6 783 200.4 782 200.1 781 200.2 780 200.3 779 200.3 778 200.1 777 200.1 776 200 775 199.7 774 199.7 773 200 772 199.7 771 199.6 770 199.9 769 199.6 768 199.6 767 199.8 766 200.1 765 200.4 764 200.4 763 200.1 762 199.7 761 199.8 760 200 759 200.1 758 200.3 757 199.9 756 200.1 755 199.7 754 199.5 753 199.2 752 199.3 751 199.4 750 199.7 749 199.5 748 199.1 747 199.4 746 199.5 745 199.9 744 200.3 743 200.1 742 200.1 741 199.9 740 199.6 739 199.9 738 200.1 737 199.9 736 199.7 735 200 734 200.1 733 199.8 732 200.3 731 200 730 200.1 729 199.8 728 199.5 727 199.3 726 198.9 725 198.9 724 199.1 723 199.1 722 199.3 721 198.9 720 199.1 719 199.2 718 199.5 717 199.3 716 199.5 715 199.2 714 199.3 713 199.5 712 199.5 711 199.1 710 199.1 709 199.2 708 199.2 707 199.5 706 199.2 705 199.1 704 199.2 703 199.4 702 199.4 701 199.4 700 199.1 699 199 698 199.2 697 198.8 696 198.9 695 198.8 694 198.8 693 198.8 692 199.2 691 199 690 198.6 689 198.9 688 199.1 687 199.3 686 199.3 685 199 684 199.2 683 199.2 682 199.2 681 199.1 680 198.8 679 198.9 678 199.3 677 199 676 198.8 675 198.7 674 198.7 673 198.8 672 198.9 671 199 670 198.8 669 198.7 668 198.8 667 198.6 666 198.3 665 198.7 664 198.6 663 198.2 662 198.5 661 198.5 660 198.3 659 198.4 658 198.4 657 198.5 656 198.5 655 198.1 654 197.8 653 197.9 652 198.1 651 198.3 650 198.2 649 198.5 648 198.5 647 198.2 646 198.2 645 197.8 644 197.7 643 197.5 642 197.6 641 197.4 640 197.3 639 197.3 638 197.4 637 197.5 636 197.6 635 197.7 634 197.5 633 197.5 632 197.6 631 197.8 630 198 629 197.9 628 198 627 197.6 626 197.5 625 197.4 624 197.7 623 197.5 622 197.2 621 197.4 620 197.8 619 197.9 618 197.6 617 198 616 197.7 615 197.5 614 197.6 613 197.5 612 197.3 611 197.1 610 196.9 609 196.7 608 196.8 607 196.4 606 196.2 605 196.2 604 196.1 603 196.1 602 196.2 601 195.9 600 195.5 599 195.3 598 195.5 597 195.7 596 195.6 595 195.5 594 195.4 593 195.5 592 195.7 591 195.6 590 195.7 589 195.4 588 195.3 587 195.6 586 195.7 585 195.5 584 195.5 583 195.3 582 195 581 194.6 580 194.5 579 194.8 578 195.1 577 194.8 576 195 575 194.8 574 194.6 573 194.6 572 194.3 571 194.5 570 194.3 569 194.3 568 193.9 567 193.4 566 193.6 565 193.3 564 193.2 563 193 562 193.1 561 192.8 560 192.9 559 192.9 558 193.2 557 192.9 556 192.6 555 192.7 554 192.8 553 192.4 552 192.1 551 192.2 550 191.9 549 191.6 548 191.7 547 191.8 546 191.5 545 191.1 544 190.9 543 191.1 542 191 541 190.7 540 187.4 539 183.1Z" fill="#1f6dd0" stroke="#1f6dd0" stroke-width="2.8" stroke-linejoin="round"/>
<circle cx="850.5" cy="195.5" r="2.5" fill="url(#gB)"/>
<circle cx="599.7" cy="188.6" r="2.2" fill="url(#gB)"/>
<circle cx="692.3" cy="191.5" r="1.8" fill="url(#gB)"/>
<circle cx="717" cy="191.9" r="2.1" fill="url(#gB)"/>
<circle cx="678.2" cy="192.1" r="2.1" fill="url(#gB)"/>
<circle cx="762.1" cy="193.5" r="1.8" fill="url(#gB)"/>
<circle cx="678.2" cy="192.3" r="2.5" fill="url(#gB)"/>
<circle cx="592.1" cy="189.1" r="2.2" fill="url(#gB)"/>
<circle cx="684.7" cy="191.6" r="2.1" fill="url(#gB)"/>
<circle cx="549.8" cy="183.4" r="1.9" fill="url(#gB)"/>
<circle cx="646.6" cy="190.5" r="2.2" fill="url(#gB)"/>
<circle cx="897.9" cy="192.8" r="2.2" fill="url(#gB)"/>
<circle cx="898.3" cy="193.1" r="2.2" fill="url(#gB)"/>
<circle cx="865.5" cy="194.2" r="2.2" fill="url(#gB)"/>
<circle cx="767.9" cy="193.7" r="1.9" fill="url(#gB)"/>
<circle cx="631.4" cy="190.4" r="2.5" fill="url(#gB)"/>
<circle cx="542.7" cy="181.7" r="2.1" fill="url(#gB)"/>
<circle cx="731.1" cy="192.6" r="1.8" fill="url(#gB)"/>
<circle cx="792.2" cy="194.7" r="2.2" fill="url(#gB)"/>
<circle cx="914.5" cy="192.2" r="2.2" fill="url(#gB)"/>
<circle cx="539.7" cy="174.2" r="1.7" fill="url(#gB)"/>
<circle cx="905.8" cy="192.6" r="2" fill="url(#gB)"/>
<circle cx="542.3" cy="182.3" r="2" fill="url(#gB)"/>
<circle cx="762.1" cy="192.9" r="2.4" fill="url(#gB)"/>
<circle cx="615.7" cy="189.6" r="1.8" fill="url(#gB)"/>
<circle cx="577.5" cy="186.8" r="2.4" fill="url(#gB)"/>
<circle cx="872.3" cy="194" r="2.1" fill="url(#gB)"/>
<circle cx="904.8" cy="192.5" r="2" fill="url(#gB)"/>
<circle cx="564.5" cy="186" r="2.4" fill="url(#gB)"/>
<circle cx="580.8" cy="186.9" r="2.3" fill="url(#gB)"/>
<circle cx="595" cy="188.9" r="2" fill="url(#gB)"/>
<circle cx="899.9" cy="193.5" r="2.5" fill="url(#gB)"/>
<circle cx="774.9" cy="192.9" r="2.2" fill="url(#gB)"/>
<circle cx="813.8" cy="194.1" r="2.1" fill="url(#gB)"/>
<circle cx="879.7" cy="193.3" r="1.9" fill="url(#gB)"/>
<circle cx="598.9" cy="188.8" r="1.8" fill="url(#gB)"/>
<circle cx="842.1" cy="194.4" r="1.8" fill="url(#gB)"/>
<circle cx="756.4" cy="193.4" r="2.1" fill="url(#gB)"/>
<circle cx="744.7" cy="191.9" r="1.7" fill="url(#gB)"/>
<circle cx="699" cy="191.8" r="1.9" fill="url(#gB)"/>
<circle cx="630.6" cy="190.5" r="2.4" fill="url(#gB)"/>
<circle cx="574" cy="186.3" r="2.1" fill="url(#gB)"/>
<circle cx="666" cy="191.3" r="2.3" fill="url(#gB)"/>
<circle cx="792.6" cy="194.4" r="2.4" fill="url(#gB)"/>
<circle cx="729.4" cy="191.6" r="2.4" fill="url(#gB)"/>
<circle cx="607.5" cy="188.5" r="1.8" fill="url(#gB)"/>
<circle cx="664.5" cy="191.3" r="1.8" fill="url(#gB)"/>
<circle cx="699.3" cy="191.7" r="1.9" fill="url(#gB)"/>
<circle cx="893.5" cy="192.8" r="1.9" fill="url(#gB)"/>
<circle cx="654.6" cy="191.7" r="2" fill="url(#gB)"/>
<circle cx="806.3" cy="194" r="2" fill="url(#gB)"/>
<circle cx="556.2" cy="184.8" r="1.8" fill="url(#gB)"/>
<circle cx="784.3" cy="194" r="1.8" fill="url(#gB)"/>
<circle cx="561.1" cy="185.2" r="2.1" fill="url(#gB)"/>
<circle cx="577.8" cy="187.2" r="2.3" fill="url(#gB)"/>
<circle cx="732.3" cy="192.4" r="1.8" fill="url(#gB)"/>
<circle cx="703" cy="191.7" r="2.2" fill="url(#gB)"/>
<circle cx="880.6" cy="193.1" r="1.7" fill="url(#gB)"/>
<circle cx="689.8" cy="191.4" r="1.9" fill="url(#gB)"/>
<circle cx="799.2" cy="194.9" r="2.5" fill="url(#gB)"/>
<circle cx="639.8" cy="190.5" r="2.2" fill="url(#gB)"/>
<circle cx="690.7" cy="191.9" r="2.3" fill="url(#gB)"/>
<circle cx="597.9" cy="189" r="1.8" fill="url(#gB)"/>
<circle cx="913.9" cy="191.4" r="2.4" fill="url(#gB)"/>
<circle cx="729.1" cy="191.3" r="2.1" fill="url(#gB)"/>
<circle cx="792.5" cy="194.6" r="2.1" fill="url(#gB)"/>
<circle cx="649.5" cy="191.3" r="2.4" fill="url(#gB)"/>
<circle cx="718.2" cy="192.2" r="1.8" fill="url(#gB)"/>
<circle cx="566" cy="183.1" r="2.8" fill="url(#gB)"/>
<circle cx="571" cy="181.6" r="2.8" fill="url(#gB)"/>
<circle cx="577" cy="182.6" r="2.8" fill="url(#gB)"/>
<circle cx="581" cy="179.8" r="2.8" fill="url(#gB)"/>
<circle cx="584" cy="183.4" r="2.8" fill="url(#gB)"/>
<circle cx="589" cy="182.2" r="2.8" fill="url(#gB)"/>
<circle cx="617.5" cy="187.2" r="2.8" fill="url(#gB)"/>
<circle cx="628" cy="189.4" r="2.8" fill="url(#gB)"/>
<circle cx="668" cy="189.8" r="2.8" fill="url(#gB)"/>
<circle cx="676" cy="190.2" r="2.8" fill="url(#gB)"/>
<circle cx="689" cy="190.2" r="2.8" fill="url(#gB)"/>
<circle cx="712" cy="191.4" r="2.8" fill="url(#gB)"/>
<circle cx="723.5" cy="190" r="2.8" fill="url(#gB)"/>
<circle cx="730" cy="191.6" r="2.8" fill="url(#gB)"/>
<circle cx="741" cy="190.4" r="2.8" fill="url(#gB)"/>
<circle cx="756" cy="191.2" r="2.8" fill="url(#gB)"/>
<circle cx="761" cy="192.2" r="2.8" fill="url(#gB)"/>
<circle cx="767" cy="191.8" r="2.8" fill="url(#gB)"/>
<circle cx="777" cy="192.2" r="2.8" fill="url(#gB)"/>
<circle cx="800" cy="193.6" r="2.8" fill="url(#gB)"/>
<circle cx="818" cy="194" r="2.8" fill="url(#gB)"/>
<circle cx="840" cy="193.9" r="2.8" fill="url(#gB)"/>
<circle cx="866" cy="192.8" r="2.8" fill="url(#gB)"/>
<circle cx="876" cy="192.2" r="2.8" fill="url(#gB)"/>
<circle cx="882" cy="190.2" r="2.8" fill="url(#gB)"/>
<circle cx="889" cy="191.4" r="2.8" fill="url(#gB)"/>
<circle cx="896" cy="189.2" r="2.8" fill="url(#gB)"/>
<circle cx="902" cy="191" r="2.8" fill="url(#gB)"/>
<circle cx="907.6" cy="189.6" r="2.8" fill="url(#gB)"/>
<circle cx="913" cy="191" r="2.8" fill="url(#gB)"/>
<path d="M537.3 40 L537.6 120 L538.4 170" fill="none" stroke="#1f6dd0" stroke-width="3.6"/>
<circle cx="537.7" cy="15.5" r="2.9" fill="url(#gB)"/>
<circle cx="537.8" cy="25" r="2.9" fill="url(#gG)"/>
<circle cx="537.9" cy="34" r="2.9" fill="url(#gB)"/>
<circle cx="537.9" cy="39.5" r="2.9" fill="url(#gB)"/>
<circle cx="538" cy="44" r="2.9" fill="url(#gG)"/>
<circle cx="538" cy="53" r="2.9" fill="url(#gB)"/>
<circle cx="538.1" cy="58" r="2.9" fill="url(#gB)"/>
<circle cx="538.1" cy="63" r="2.9" fill="url(#gG)"/>
<circle cx="538.2" cy="71" r="2.9" fill="url(#gB)"/>
<circle cx="538.2" cy="76.5" r="2.9" fill="url(#gB)"/>
<circle cx="538.3" cy="81" r="2.9" fill="url(#gG)"/>
<circle cx="538.3" cy="89" r="2.9" fill="url(#gB)"/>
<circle cx="538.4" cy="94.5" r="2.9" fill="url(#gB)"/>
<circle cx="538.4" cy="99" r="2.9" fill="url(#gG)"/>
<circle cx="538.5" cy="107" r="2.9" fill="url(#gB)"/>
<circle cx="538.5" cy="112" r="2.9" fill="url(#gB)"/>
<circle cx="538.6" cy="117" r="2.9" fill="url(#gG)"/>
<circle cx="538.6" cy="124" r="2.9" fill="url(#gB)"/>
<circle cx="538.7" cy="129" r="2.9" fill="url(#gB)"/>
<circle cx="538.7" cy="134" r="2.9" fill="url(#gG)"/>
<circle cx="538.8" cy="140" r="2.9" fill="url(#gB)"/>
<circle cx="538.8" cy="146" r="2.9" fill="url(#gB)"/>
<circle cx="538.9" cy="152" r="2.9" fill="url(#gB)"/>
<circle cx="538.9" cy="158" r="2.9" fill="url(#gB)"/>
<circle cx="539" cy="164" r="2.9" fill="url(#gB)"/>
<circle cx="539" cy="170" r="2.9" fill="url(#gB)"/>
</g>
<g id="series-c">
<polyline points="62.5,450 66,448.6 70,447.2 75,446 82,445.2 90,444.6 100,443.3 106,442 112,440.6 118,440.2 125,439 131,437.8 138,437.2 150,436.5 160,436.1 175,436.6 186,437.8 193,438.6 200,438.7 210,438.2 218,437.6 225,437.4 233,436.8 240,437.5 248,437.8 256,437.1 265,437.5 275,438.4 283,439.3 290,440 295,441.5 300,444 305,445.4 310,445.8 315,447.3 322,450.5 330,454 338,457.5 345,459.8 350,461.2 356,462.6 362.5,463 368,462.2 374,460.8 380,460 386,460.6 390,461.8 395,463.6 402,466.4 408,468.8 415,471.2 419,472.2 425,471.6 430,472.4 436,472.8 440,473.3" fill="none" stroke="#1f1f8a" stroke-width="2" stroke-linejoin="round" stroke-linecap="round"/>
<polyline points="61.5,453.8 62.5,455.1 63.3,455.7 63.8,458.2 64.1,458.5 64.7,460.1 65.8,460.9 66.3,462.2 66.9,463.2 67.7,464.7 67.7,465.3 68.7,468 69.1,468 69.8,470.3 69.8,471 70.7,471.7 70.8,473.6 71.9,476.1 72.1,477.2 72.9,478.5 73.4,480 74.1,481.3 74.7,481.3 75.4,483.1 75.9,484.3 76.6,485.8 77,486.5 77.8,488.1 78.4,489.5 78.9,490.5 79.5,492.1 80.4,493.3 80.7,493.9 81.4,495.9 81.5,497.1 81.9,499.4 82.6,500.2 83,501 83.2,502.6 83.5,503.9 84.2,505.8 84.8,504.7 86.2,505.3 86.8,506.6 87.5,507.3 87.7,508.7 88.8,511.1 90.3,511.9 92,511.3 92.8,509.7 93.9,511.3 95.5,511.6 96.1,512.4 97,514.4 97.7,515.9 98.1,516.5 98.1,517.5 98.9,518.6 98.8,520 100.3,519.8 100.9,518.6 101.9,519 102.1,520.8 102.9,520.8 103.9,520.1 104.3,519 104.8,516.6 105.7,518.1 106.6,519.2" fill="none" stroke="#b6b6b6" stroke-width="3.1" stroke-linejoin="round" stroke-linecap="round"/>
<text x="273.4" y="426" font-size="15" font-weight="bold" fill="#1f1f8a" text-anchor="start" textLength="158.6" lengthAdjust="spacingAndGlyphs" font-family="'Liberation Sans','Noto Sans CJK SC',sans-serif">NiFeP@Ni_NC(600℃)</text>
<text x="295" y="490.4" font-size="15.5" font-weight="bold" fill="#1f1f8a" text-anchor="start" textLength="131.5" lengthAdjust="spacingAndGlyphs">93% after 15 days</text>
<text x="84.8" y="489" font-size="15.5" font-weight="bold" fill="#b6b6b6" text-anchor="start" textLength="43.2" lengthAdjust="spacingAndGlyphs">NiFeP</text>
<text x="115" y="535.6" font-size="15.5" font-weight="bold" fill="#b6b6b6" text-anchor="start" textLength="139" lengthAdjust="spacingAndGlyphs">77% after 41 hours</text>
</g>
<rect x="61.5" y="7.5" width="385" height="307.8" fill="none" stroke="#000" stroke-width="2.2"/>
<rect x="536.3" y="7.5" width="382.5" height="307.3" fill="none" stroke="#000" stroke-width="2.2"/>
<rect x="62" y="405.8" width="383.8" height="213" fill="none" stroke="#2a2a2a" stroke-width="1.7"/>
<g id="overlay-a">
<rect x="321" y="238" width="124.8" height="78.2" fill="none" stroke="#b2b2b2" stroke-width="2.2"/>
<circle cx="259.6" cy="17.2" r="3.3" fill="url(#gG)"/>
<circle cx="259.6" cy="37" r="3.3" fill="url(#gB)"/>
<text x="282" y="23" font-size="16.2" font-weight="normal" fill="#000" text-anchor="start">NiFeP</text>
<text x="282.6" y="42.8" font-size="16.2" font-weight="normal" fill="#000" text-anchor="start" textLength="161" lengthAdjust="spacingAndGlyphs" font-family="'Liberation Sans','Noto Sans CJK SC',sans-serif">NiFeP@Ni_NC(600<tspan font-size="14.5" dy="-0.5">℃</tspan><tspan dy="0.5">)</tspan></text>
<line x1="62" y1="355" x2="62" y2="321" stroke="#ecc95c" stroke-width="1.6"/>
<path d="M62 317 L64.9 324.6 L59.1 324.6 Z" fill="#ecc95c"/>
<line x1="188.7" y1="355" x2="188.7" y2="321" stroke="#ecc95c" stroke-width="1.6"/>
<path d="M188.7 317 L191.6 324.6 L185.8 324.6 Z" fill="#ecc95c"/>
<line x1="318.2" y1="355" x2="318.2" y2="321" stroke="#ecc95c" stroke-width="1.6"/>
<path d="M318.2 317 L321.1 324.6 L315.3 324.6 Z" fill="#ecc95c"/>
<text x="5" y="368" font-size="17" font-weight="bold" fill="#ecc95c" text-anchor="start" textLength="80" lengthAdjust="spacingAndGlyphs">Ar purging</text>
<text x="122.5" y="368" font-size="17" font-weight="bold" fill="#ecc95c" text-anchor="start" textLength="80" lengthAdjust="spacingAndGlyphs">O<tspan font-size="11" dy="3">2</tspan><tspan dy="-3"> purging</tspan></text>
<text x="299.5" y="368" font-size="17" font-weight="bold" fill="#ecc95c" text-anchor="start" textLength="80" lengthAdjust="spacingAndGlyphs">Ar purging</text>
</g>
<g id="overlay-b">
<circle cx="733" cy="17.4" r="3.3" fill="url(#gG)"/>
<circle cx="733" cy="37" r="3.3" fill="url(#gB)"/>
<text x="755.4" y="23" font-size="16.2" font-weight="normal" fill="#000" text-anchor="start">NiFeP</text>
<text x="755.4" y="42.6" font-size="16.2" font-weight="normal" fill="#000" text-anchor="start" textLength="161" lengthAdjust="spacingAndGlyphs" font-family="'Liberation Sans','Noto Sans CJK SC',sans-serif">NiFeP@Ni_NC(600<tspan font-size="14.5" dy="-0.5">℃</tspan><tspan dy="0.5">)</tspan></text>
</g>
<g id="panel-d" font-family="'Liberation Sans', sans-serif">
<defs><marker id="mk" viewBox="0 0 10 10" refX="6" refY="5" markerWidth="4.2" markerHeight="4.2" orient="auto-start-reverse"><path d="M0 0 L10 5 L0 10 Z" fill="#111"/></marker><marker id="mkN" viewBox="0 0 10 10" refX="6" refY="5" markerWidth="4.6" markerHeight="4.6" orient="auto-start-reverse"><path d="M0 0 L10 5 L0 10 Z" fill="#14213d"/></marker></defs>
<path d="M514.5 528 L556 407 L633 482 Z" fill="url(#gCone)"/>
<rect x="556" y="406.5" width="77" height="76" fill="#fff"/>
<rect x="556" y="438.7" width="77" height="43.8" fill="#a9c9ec"/>
<path d="M558.2 482 L558.2 455 Q558.2 443.6 569.7 443.6 Q581.2 443.6 581.2 455 L581.2 482 Z" fill="#1e9ad8" stroke="#0f1a30" stroke-width="1.6"/>
<line x1="556" y1="438.7" x2="633" y2="438.7" stroke="#0f1a30" stroke-width="1.8"/>
<line x1="581.4" y1="438.7" x2="581.4" y2="482" stroke="#0f1a30" stroke-width="1.8"/>
<rect x="604.5" y="408.6" width="32" height="15" rx="2.6" fill="#fff" stroke="#111" stroke-width="1.8" clip-path="url(#clipInset)"/>
<clipPath id="clipInset"><rect x="556" y="406.5" width="77" height="76"/></clipPath>
<text x="615" y="421.2" font-size="14" fill="#222" clip-path="url(#clipInset)">Po</text>
<path d="M604.5 412.5 Q573 416 568.5 443.5" fill="none" stroke="#111" stroke-width="1.8"/>
<path d="M580.3 421.8 L588.3 417 L586.3 424.4 Z" fill="#111"/>
<path d="M611 481 Q599 480 594.6 472.6" fill="none" stroke="#0f1a30" stroke-width="1.8"/>
<path d="M592.8 469.3 L599 473.6 L593.6 476.4 Z" fill="#0f1a30"/>
<text x="589.6" y="455.8" font-size="16" font-weight="bold" fill="#0f1a30" text-anchor="start" textLength="35" lengthAdjust="spacingAndGlyphs">ORR</text>
<circle cx="578.6" cy="462.8" r="3.7" fill="#c0272d" stroke="#c0272d" stroke-width="2.4" stroke-dasharray="1.6 1.5" />
<circle cx="588.2" cy="463" r="5.7" fill="#fff" stroke="#111" stroke-width="1.8"/>
<circle cx="587.2" cy="463.4" r="1.9" fill="#d23b3b"/>
<rect x="556" y="406.5" width="77" height="76" fill="none" stroke="#0f1a30" stroke-width="2.4"/>
<path d="M581.8 463 L581.8 431 L796.6 431 L796.6 499" fill="none" stroke="#b3262a" stroke-width="2.6" stroke-linejoin="miter"/>
<path d="M796.6 506.5 L792 497.4 L801.2 497.4 Z" fill="#b3262a"/>
<text x="471.8" y="501.4" font-size="21" font-weight="bold" fill="#000" text-anchor="start" textLength="26.4" lengthAdjust="spacingAndGlyphs">(d)</text>
<rect x="483.4" y="515.6" width="115.8" height="92.6" rx="8" fill="#9ec3e8" stroke="#1c3557" stroke-width="2"/>
<path d="M504.8 518.5 Q504.5 504 523.4 503.4" fill="none" stroke="#111" stroke-width="1.5"/>
<path d="M558.8 503.4 Q578 503.6 578 518.5" fill="none" stroke="#111" stroke-width="1.5"/>
<path d="M511.6 505 L517 501.8 L516.6 507.6 Z" fill="#111"/>
<path d="M566.2 503 L571.6 503.2 L569 508 Z" fill="#111"/>
<rect x="523.4" y="498.8" width="35.4" height="9.2" rx="1.6" fill="#fff" stroke="#111" stroke-width="1.5"/>
<text x="541.1" y="506.6" font-size="8.8" font-weight="normal" fill="#333" text-anchor="middle" textLength="22" lengthAdjust="spacingAndGlyphs">Power</text>
<line x1="530" y1="507.2" x2="552.5" y2="507.2" stroke="#444" stroke-width="0.6"/>
<text x="505.6" y="504" font-size="11.5" font-weight="bold" fill="#222" text-anchor="start">e<tspan font-size="7" dy="-4">-</tspan></text>
<text x="571" y="504" font-size="11.5" font-weight="bold" fill="#222" text-anchor="start">e<tspan font-size="7" dy="-4">-</tspan></text>
<rect x="497.6" y="518.4" width="14.8" height="86.6" rx="7.4" fill="#1e9ad8" stroke="#173a63" stroke-width="1.7"/>
<rect x="570.6" y="518.4" width="14.8" height="86.6" rx="7.4" fill="#8ccb3f" stroke="#2f5d1c" stroke-width="1.7"/>
<text x="0" y="0" font-size="11.5" font-weight="normal" fill="#1c4f8a" text-anchor="middle" textLength="44" lengthAdjust="spacingAndGlyphs" transform="translate(509 561.5) rotate(-90)">Cathode</text>
<text x="0" y="0" font-size="11.5" font-weight="normal" fill="#2f5d1c" text-anchor="middle" textLength="33" lengthAdjust="spacingAndGlyphs" transform="translate(582.2 562) rotate(-90)">Anode</text>
<rect x="538.9" y="516.2" width="4.8" height="5" fill="#fff" stroke="#1c3557" stroke-width="1"/>
<rect x="538.9" y="524.8" width="4.8" height="5" fill="#fff" stroke="#1c3557" stroke-width="1"/>
<rect x="538.9" y="533.4" width="4.8" height="5" fill="#fff" stroke="#1c3557" stroke-width="1"/>
<rect x="538.9" y="542.1" width="4.8" height="5" fill="#fff" stroke="#1c3557" stroke-width="1"/>
<rect x="538.9" y="550.7" width="4.8" height="5" fill="#fff" stroke="#1c3557" stroke-width="1"/>
<rect x="538.9" y="559.3" width="4.8" height="5" fill="#fff" stroke="#1c3557" stroke-width="1"/>
<rect x="538.9" y="567.9" width="4.8" height="5" fill="#fff" stroke="#1c3557" stroke-width="1"/>
<rect x="538.9" y="576.5" width="4.8" height="5" fill="#fff" stroke="#1c3557" stroke-width="1"/>
<rect x="538.9" y="585.2" width="4.8" height="5" fill="#fff" stroke="#1c3557" stroke-width="1"/>
<rect x="538.9" y="593.8" width="4.8" height="5" fill="#fff" stroke="#1c3557" stroke-width="1"/>
<rect x="538.9" y="602.4" width="4.8" height="5" fill="#fff" stroke="#1c3557" stroke-width="1"/>
<circle cx="558" cy="527.4" r="3.6" fill="#fff" stroke="#111" stroke-width="1.6"/>
<circle cx="561.9" cy="533.1" r="2.5" fill="#fff" stroke="#111" stroke-width="1.6"/>
<circle cx="560.3" cy="537.6" r="2.3" fill="#fff" stroke="#111" stroke-width="1.6"/>
<circle cx="561.4" cy="541.7" r="3" fill="#fff" stroke="#111" stroke-width="1.6"/>
<circle cx="558.7" cy="546.7" r="3" fill="#fff" stroke="#111" stroke-width="1.6"/>
<circle cx="563.7" cy="555.7" r="4.8" fill="#fff" stroke="#111" stroke-width="1.6"/>
<circle cx="551.9" cy="557.5" r="3.8" fill="#fff" stroke="#111" stroke-width="1.6"/>
<circle cx="547.4" cy="549.6" r="2.8" fill="#fff" stroke="#111" stroke-width="1.6"/>
<circle cx="534.7" cy="547.3" r="2.5" fill="#fff" stroke="#111" stroke-width="1.6"/>
<circle cx="561.4" cy="563" r="2.8" fill="#fff" stroke="#111" stroke-width="1.6"/>
<circle cx="563.3" cy="569.8" r="4.3" fill="#fff" stroke="#111" stroke-width="1.6"/>
<circle cx="563.7" cy="579.7" r="4.8" fill="#fff" stroke="#111" stroke-width="1.6"/>
<circle cx="567.3" cy="562.1" r="1.8" fill="#fff" stroke="#111" stroke-width="1.6"/>
<circle cx="588.6" cy="520.4" r="2" fill="#fff" stroke="#111" stroke-width="1.6"/>
<circle cx="590.9" cy="524" r="3.3" fill="#fff" stroke="#111" stroke-width="1.6"/>
<circle cx="589.1" cy="529" r="2.5" fill="#fff" stroke="#111" stroke-width="1.6"/>
<circle cx="589.8" cy="534.2" r="2.5" fill="#fff" stroke="#111" stroke-width="1.6"/>
<circle cx="591.4" cy="541.7" r="3.6" fill="#fff" stroke="#111" stroke-width="1.6"/>
<circle cx="588.6" cy="548.5" r="2.5" fill="#fff" stroke="#111" stroke-width="1.6"/>
<circle cx="588.2" cy="555.7" r="3.8" fill="#fff" stroke="#111" stroke-width="1.6"/>
<circle cx="589.1" cy="563.6" r="3.8" fill="#fff" stroke="#111" stroke-width="1.6"/>
<path d="M532 546.6 Q528.5 541 525.5 543.6 Q522.5 546 520 537" fill="none" stroke="#0f1a30" stroke-width="1.3"/>
<path d="M518.6 533.6 L522.6 537 L518.4 538.6 Z" fill="#0f1a30"/>
<circle cx="512.6" cy="528.6" r="2.6" fill="#c0272d"/>
<circle cx="515.4" cy="528.6" r="2.6" fill="#fff" stroke="#c0272d" stroke-width="1.1"/>
<text x="517" y="525.2" font-size="9.2" font-weight="bold" fill="#0f1a30" text-anchor="start" textLength="19" lengthAdjust="spacingAndGlyphs">ORR</text>
<text x="588" y="578.4" font-size="10" font-weight="bold" fill="#0f1a30" text-anchor="start">O<tspan font-size="6.5" dy="2">2</tspan></text>
<line x1="554.8" y1="600.6" x2="532" y2="600.6" stroke="#2f5f9e" stroke-width="1.4"/>
<path d="M528.6 600.6 L534 598 L534 603.2 Z" fill="#2f5f9e"/>
<line x1="541.4" y1="627" x2="541.4" y2="614.5" stroke="#111" stroke-width="1.8"/>
<path d="M541.4 610.6 L544.6 616 L538.2 616 Z" fill="#111"/>
<text x="547.4" y="618.6" font-size="12" font-weight="normal" fill="#4a5a72" text-anchor="start" textLength="47.6" lengthAdjust="spacingAndGlyphs">Crossover</text>
<text x="502.5" y="635.8" font-size="12" font-weight="bold" fill="#111" text-anchor="start" textLength="84" lengthAdjust="spacingAndGlyphs">Porous separator</text>
</g>
<g id="panel-e">
<text x="650.3" y="501.6" font-size="21" font-weight="bold" fill="#000" text-anchor="start" textLength="23" lengthAdjust="spacingAndGlyphs">(e)</text>
<rect x="666.6" y="506.8" width="258.6" height="130.4" rx="13" fill="#f1f1f1" stroke="#8d1f22" stroke-width="2.4" stroke-dasharray="8.5 3.6"/>
<text x="690" y="530.2" font-size="11.2" font-weight="bold" fill="#1a1a1a" text-anchor="start" textLength="47" lengthAdjust="spacingAndGlyphs">Oxidation</text>
<text x="796" y="529.6" font-size="11.2" font-weight="bold" fill="#1a1a1a" text-anchor="start" textLength="127" lengthAdjust="spacingAndGlyphs">ORR catalytic carbon shell</text>
<path d="M678.5 539.2 L731 539.2 L784.8 565.8 L678.6 584 Z" fill="url(#gTop)"/>
<path d="M678.6 584 L784.8 565.8 L784.8 573 L682.8 601 Z" fill="url(#gFront)"/>
<path d="M805 539.2 L862.5 539.2 L913.4 565.8 L805.2 586 Z" fill="url(#gTop)"/>
<path d="M805.2 586 L913.4 565.8 L913.4 573 L811.8 603 Z" fill="url(#gFront)"/>
<clipPath id="clipHex"><path d="M801.5 536.5 L866 536.5 L921 565 L921 572 L905 579 L812 610 L801.5 594 Z"/></clipPath>
<path d="M797.3 538.6L800.5 537.3M797.3 538.6L800.4 540M796.9 541.5L800.4 540M796.9 541.5L800.2 543.1M796.4 545L800.2 543.1M796.4 545L800.1 546.9M795.8 549.3L800.1 546.9M795.8 549.3L799.9 551.6M795.1 554.6L799.9 551.6M795.1 554.6L799.6 557.4M794.1 561.4L799.6 557.4M794.1 561.4L799.3 564.9M792.9 570.3L799.3 564.9M792.9 570.3L798.9 575M791.1 582.7L798.8 575M791.1 582.7L798.2 589.3M788.6 601.1L798.2 589.3M788.6 601.1L797.3 611M800.5 537.3L806.3 537.4M800.4 540L806.7 539.9M800.2 543.1L807.1 543M800.1 546.9L807.6 546.7M799.9 551.6L808.3 551.1M799.6 557.4L809.1 556.7M799.3 564.9L810.1 563.8M798.8 575L811.4 573.2M798.2 589.3L813.3 586.3M800.4 540L806.7 539.9M800.2 543.1L807.1 543M800.1 546.9L807.6 546.7M799.9 551.6L808.3 551.1M799.6 557.4L809.1 556.7M799.3 564.9L810.1 563.8M798.9 575L811.4 573.2M798.2 589.3L813.3 586.3M797.3 611L816 605.6M806.7 539.9L809.4 538.6M806.7 539.9L810.1 541.4M807.1 543L810.1 541.4M807.1 543L810.8 544.7M807.6 546.7L810.8 544.7M807.6 546.7L811.7 548.6M808.3 551.1L811.7 548.6M808.3 551.1L812.8 553.5M809 556.7L812.8 553.5M809 556.7L814.3 559.6M810.1 563.8L814.3 559.6M810.1 563.8L816.1 567.5M811.4 573.2L816.1 567.5M811.4 573.2L818.5 578.1M813.2 586.3L818.5 578.1M813.2 586.3L822 593.1M806.3 537.4L809.4 538.6M806.7 539.9L809.4 538.6M806.7 539.9L810.1 541.4M807.1 543L810.1 541.4M807.1 543L810.8 544.7M807.6 546.7L810.8 544.7M807.6 546.7L811.7 548.6M808.3 551.1L811.7 548.6M808.3 551.1L812.8 553.5M809.1 556.7L812.8 553.5M809.1 556.7L814.3 559.6M810.1 563.8L814.3 559.6M810.1 563.8L816.1 567.5M811.4 573.2L816.1 567.5M811.4 573.2L818.5 578.1M813.3 586.3L818.5 578.1M813.3 586.3L822 593.1M816 605.6L822 593.1M809.4 538.6L815.1 538.6M810.1 541.4L816.1 541.3M810.8 544.7L817.4 544.5M811.7 548.6L819 548.3M812.8 553.5L820.8 553M814.3 559.6L823.2 558.8M816.1 567.5L826.2 566.2M818.5 578.1L830.2 576.1M822 593.1L835.7 589.8M815.1 538.6L817.2 537.4M815.1 538.6L818.4 539.9M815.1 538.6L818.4 539.9M816.1 541.3L818.4 539.9M816.1 541.3L819.8 542.8M816.1 541.3L819.8 542.8M817.4 544.5L819.8 542.8M817.4 544.5L821.5 546.2M817.4 544.5L821.5 546.2M819 548.3L821.5 546.2M819 548.3L823.5 550.3M819 548.3L823.5 550.3M820.8 553L823.5 550.3M820.8 553L825.9 555.4M820.8 553L826 555.4M823.2 558.8L825.9 555.4M823.2 558.8L829 561.8M823.2 558.8L829.1 561.8M826.2 566.2L829 561.8M826.2 566.2L833.1 570.1M826.2 566.2L833.1 570.1M830.2 576.1L833.1 570.1M830.2 576.1L838.5 581.2M830.2 576.1L838.5 581.2M835.7 589.8L838.5 581.2M835.7 589.8L846.2 597M817.2 537.4L822.3 537.4M818.4 539.9L823.8 539.9M819.8 542.8L825.7 542.7M821.5 546.2L827.8 546M823.5 550.3L830.4 550M825.9 555.4L833.5 554.8M829 561.8L837.5 560.9M833.1 570.1L842.5 568.7M838.5 581.2L849.2 579.1M818.4 539.9L823.8 539.9M819.8 542.8L825.7 542.7M821.5 546.2L827.8 546M823.5 550.3L830.4 550M826 555.4L833.5 554.8M829.1 561.8L837.5 560.9M833.1 570.1L842.5 568.7M838.5 581.2L849.2 579.1M846.2 597L858.6 593.5M822.3 537.4L825.6 538.6M823.8 539.9L825.6 538.6M823.8 539.9L827.4 541.2M825.7 542.7L827.4 541.2M825.7 542.7L829.6 544.2M827.8 546L829.6 544.2M827.8 546L832.2 547.8M830.4 550L832.2 547.8M830.4 550L835.3 552.1M833.5 554.8L835.3 552.1M833.5 554.8L839.2 557.4M837.5 560.9L839.2 557.4M837.5 560.9L844 564M842.5 568.7L844 564M842.5 568.7L850.3 572.7M849.2 579.1L850.3 572.7M849.2 579.1L858.7 584.4M858.6 593.5L858.7 584.4M825.6 538.6L830.5 538.6M827.4 541.2L832.7 541.1M829.6 544.2L835.3 544M832.2 547.8L838.3 547.5M835.3 552.1L841.9 551.7M839.2 557.4L846.4 556.7M844 564L851.9 563.1M850.3 572.7L859 571.2M858.7 584.4L868.5 582M830.5 538.6L831.8 537.5M830.5 538.6L834 539.8M830.5 538.6L834 539.8M832.7 541.1L834 539.8M832.7 541.1L836.5 542.5M832.7 541.1L834 539.8M832.7 541.1L836.5 542.5M835.3 544L836.5 542.5M835.3 544L839.5 545.6M835.3 544L836.5 542.5M835.3 544L839.5 545.6M838.3 547.5L839.5 545.6M838.3 547.5L843 549.3M838.3 547.5L839.5 545.6M838.3 547.5L843 549.3M841.9 551.7L843 549.3M841.9 551.7L847.3 553.8M841.9 551.7L843 549.3M841.9 551.7L847.3 553.8M846.4 556.7L847.3 553.8M846.4 556.7L852.5 559.3M846.4 556.7L847.3 553.8M846.4 556.7L852.5 559.3M851.9 563.1L852.5 559.3M851.9 563.1L859.1 566.3M851.9 563.1L852.5 559.3M851.9 563.1L859.1 566.3M859 571.2L859.1 566.3M859 571.2L867.7 575.4M859 571.2L859.1 566.3M859 571.2L867.7 575.3M868.5 582L867.7 575.4M868.5 582L879.3 587.6M868.5 582L867.7 575.3M831.8 537.5L836.3 537.5M834 539.8L838.7 539.8M836.5 542.5L841.6 542.4M839.5 545.6L844.9 545.4M843 549.3L848.8 549M847.3 553.8L853.5 553.3M852.5 559.3L859.3 558.6M859.1 566.3L866.5 565.2M867.7 575.4L875.7 573.7M879.3 587.6L888.1 585.1M836.3 537.5L839.7 538.6M838.7 539.8L839.7 538.6M838.7 539.8L842.5 541M841.6 542.4L842.5 541M841.6 542.4L845.7 543.8M844.9 545.4L845.7 543.8M844.9 545.4L849.5 547M848.8 549L849.5 547M848.8 549L853.9 550.9M853.5 553.3L853.9 550.9M853.5 553.3L859.3 555.6M859.3 558.6L859.3 555.6M859.3 558.6L866 561.3M866.5 565.2L866 561.3M866.5 565.2L874.4 568.6M875.7 573.7L874.4 568.6M875.7 573.7L885.3 578M888.1 585.1L885.3 578M839.7 538.6L844 538.6M842.5 541L847.1 540.9M845.7 543.8L850.5 543.7M849.5 547L854.6 546.8M853.9 550.9L859.4 550.6M859.3 555.6L865.2 555.1M866 561.3L872.3 560.6M874.4 568.6L881.2 567.4M885.3 578L892.6 576.3M844 538.6L844.7 537.6M844 538.6L847.6 539.7M847.1 540.9L847.6 539.7M847.1 540.9L851 542.2M850.5 543.7L851 542.2M850.5 543.7L854.9 545.1M854.6 546.8L854.9 545.1M854.6 546.8L859.5 548.5M859.4 550.6L859.5 548.5M859.4 550.6L864.9 552.5M865.2 555.1L864.9 552.5M865.2 555.1L871.5 557.4M872.3 560.6L871.5 557.4M872.3 560.6L879.6 563.3M881.2 567.4L879.6 563.3M881.2 567.4L889.8 570.9M892.6 576.3L889.8 570.9M892.6 576.3L903.2 580.8M844.7 537.6L848.7 537.6M847.6 539.7L851.8 539.7M851 542.2L855.4 542.1M854.9 545.1L859.6 544.9M859.5 548.5L864.4 548.2M864.9 552.5L870.2 552.1M871.5 557.4L877.1 556.8M879.6 563.3L885.5 562.5M889.8 570.9L896.1 569.7M903.2 580.8L909.7 578.9M848.7 537.6L852.2 538.6M851.8 539.7L852.2 538.6M851.8 539.7L855.6 540.8M855.4 542.1L855.6 540.8M855.4 542.1L859.6 543.4M859.6 544.9L859.6 543.4M859.6 544.9L864.2 546.4M864.4 548.2L864.2 546.4M864.4 548.2L869.6 549.9M870.2 552.1L869.6 549.9M870.2 552.1L876 554.1M877.1 556.8L876 554.1M877.1 556.8L883.8 559.1M885.5 562.5L883.8 559.1M885.5 562.5L893.3 565.4M896.1 569.7L893.3 565.4M896.1 569.7L905.5 573.2M909.7 578.9L905.5 573.2M852.2 538.6L856 538.6M855.6 540.8L859.7 540.8M859.6 543.4L863.8 543.3M864.2 546.4L868.6 546.2M869.6 549.9L874.3 549.6M876 554.1L880.9 553.7M883.8 559.1L889 558.5M893.3 565.4L898.8 564.4M905.5 573.2L911.1 571.9M856 538.6L856.2 537.6M856 538.6L859.7 539.7M856 538.6L859.7 539.7M859.7 540.8L859.7 539.7M859.7 540.8L863.7 542M859.7 540.8L859.7 539.7M859.7 540.8L863.7 542M863.8 543.3L863.7 542M863.8 543.3L868.2 544.7M863.8 543.3L863.7 542M863.8 543.3L868.2 544.7M868.6 546.2L868.2 544.7M868.6 546.2L873.5 547.8M868.6 546.2L868.2 544.7M868.6 546.2L873.5 547.8M874.3 549.6L873.5 547.8M874.3 549.6L879.8 551.4M874.3 549.6L873.5 547.8M874.3 549.6L879.8 551.4M880.9 553.7L879.8 551.4M880.9 553.7L887.2 555.7M880.9 553.7L879.8 551.4M880.9 553.7L887.2 555.7M889 558.5L887.2 555.7M889 558.5L896.1 561M889 558.5L887.2 555.7M889 558.5L896.1 561M898.8 564.4L896.1 561M898.8 564.4L907.2 567.4M898.8 564.4L896.1 561M898.8 564.4L907.2 567.4M911.1 571.9L907.2 567.4M911.1 571.9L921.2 575.6M911.1 571.9L907.2 567.4M856.2 537.6L859.7 537.6M859.7 539.7L863.4 539.6M863.7 542L867.5 541.9M868.2 544.7L872.3 544.5M873.5 547.8L877.8 547.5M879.8 551.4L884.2 551.1M887.2 555.7L891.8 555.2M896.1 561L901 560.3M907.2 567.4L912.2 566.4M921.2 575.6L926.3 574.2M859.7 537.6L863.2 538.6M863.4 539.6L863.2 538.6M863.4 539.6L867.2 540.7M867.5 541.9L867.2 540.7M867.5 541.9L871.7 543.1M872.3 544.5L871.7 543.1M872.3 544.5L876.9 545.9M877.8 547.5L876.9 545.9M877.8 547.5L882.9 549.1M884.2 551.1L882.9 549.1M884.2 551.1L890 552.9M891.8 555.2L890 552.9M891.8 555.2L898.4 557.3M901 560.3L898.4 557.3M901 560.3L908.6 562.8M912.2 566.4L908.6 562.8M912.2 566.4L921.2 569.5M926.3 574.2L921.2 569.5M863.4 539.6L863.2 538.6M863.4 539.6L867.2 540.7M867.5 541.9L867.2 540.7M867.5 541.9L871.7 543.1M872.3 544.5L871.7 543.1M872.3 544.5L876.9 545.9M877.8 547.5L876.9 545.9M877.8 547.5L882.9 549.1M884.2 551.1L882.9 549.1M884.2 551.1L890 552.9M891.8 555.2L890 552.9M891.8 555.2L898.4 557.3M901 560.3L898.4 557.3M901 560.3L908.6 562.8M912.2 566.4L908.6 562.8M912.2 566.4L921.2 569.5M863.2 538.6L866.7 538.6M867.2 540.7L870.8 540.7M871.7 543.1L875.4 543M876.9 545.9L880.8 545.7M882.9 549.1L887 548.8M890 552.9L894.2 552.5M898.4 557.3L902.8 556.8M908.6 562.8L913.1 562M921.2 569.5L925.7 568.4M866.7 538.6L870.4 539.6M870.8 540.7L870.4 539.6M870.8 540.7L874.8 541.8M875.4 543L874.8 541.8M875.4 543L879.9 544.3M880.8 545.7L879.9 544.3M880.8 545.7L885.7 547.1M887 548.8L885.7 547.1M887 548.8L892.4 550.4M894.2 552.5L892.4 550.4M894.2 552.5L900.3 554.3M902.8 556.8L900.3 554.3M902.8 556.8L909.8 559M913.1 562L909.8 559M913.1 562L921.2 564.6M925.7 568.4L921.2 564.6" fill="none" stroke="#0c160c" stroke-width="1.2" stroke-linecap="round" clip-path="url(#clipHex)"/>
<circle cx="780.4" cy="552.4" r="3.5" fill="url(#gR)"/>
<circle cx="787" cy="556" r="4" fill="url(#gR)"/>
<circle cx="784.8" cy="588.6" r="1.9" fill="url(#gN)"/>
<circle cx="780" cy="585.4" r="3.6" fill="url(#gR)"/>
<circle cx="908.4" cy="552.4" r="3.5" fill="url(#gR)"/>
<circle cx="915" cy="556" r="4" fill="url(#gR)"/>
<circle cx="912.4" cy="588.6" r="1.9" fill="url(#gN)"/>
<circle cx="908" cy="585.4" r="3.6" fill="url(#gR)"/>
<circle cx="760" cy="575.4" r="11.6" fill="none" stroke="#c0522c" stroke-width="1.5" stroke-dasharray="4 2.4"/>
<path d="M775.4 551.8 Q760.5 553 757.4 566 Q755.4 580.6 769.6 584.2" fill="none" stroke="#111" stroke-width="1.7"/>
<path d="M773.6 585 L767.6 587.4 L768.8 581 Z" fill="#111"/>
<path d="M903 552 Q889.5 554 886.4 566 Q884.6 580.6 897.6 584.4" fill="none" stroke="#111" stroke-width="1.7"/>
<path d="M901.6 585.2 L895.6 587.6 L896.8 581.2 Z" fill="#111"/>
<line x1="723.8" y1="533.6" x2="744.4" y2="560.4" stroke="#111" stroke-width="1.5"/>
<path d="M746.8 563.6 L740.8 559.8 L745.4 556.4 Z" fill="#111"/>
<text x="744" y="554.6" font-size="10.6" font-weight="normal" fill="#0a0a0a" text-anchor="start" textLength="19.5" lengthAdjust="spacingAndGlyphs">ORR</text>
<text x="778.6" y="546.6" font-size="11" font-weight="bold" fill="#1a1a1a" text-anchor="start">O<tspan font-size="7" dy="2.4">2</tspan></text>
<text x="760.4" y="601" font-size="11" font-weight="bold" fill="#1a1a1a" text-anchor="start">4 OH<tspan font-size="7" dy="-4">-</tspan></text>
<text x="720.5" y="625.2" font-size="11.2" font-weight="bold" fill="#1a1a1a" text-anchor="start" textLength="27.4" lengthAdjust="spacingAndGlyphs">NiFeP</text>
<text x="830" y="625.2" font-size="11.2" font-weight="bold" fill="#1a1a1a" text-anchor="start" textLength="68.4" lengthAdjust="spacingAndGlyphs">NiFeP@Ni_NC</text>
</g>
</svg></body></html>
